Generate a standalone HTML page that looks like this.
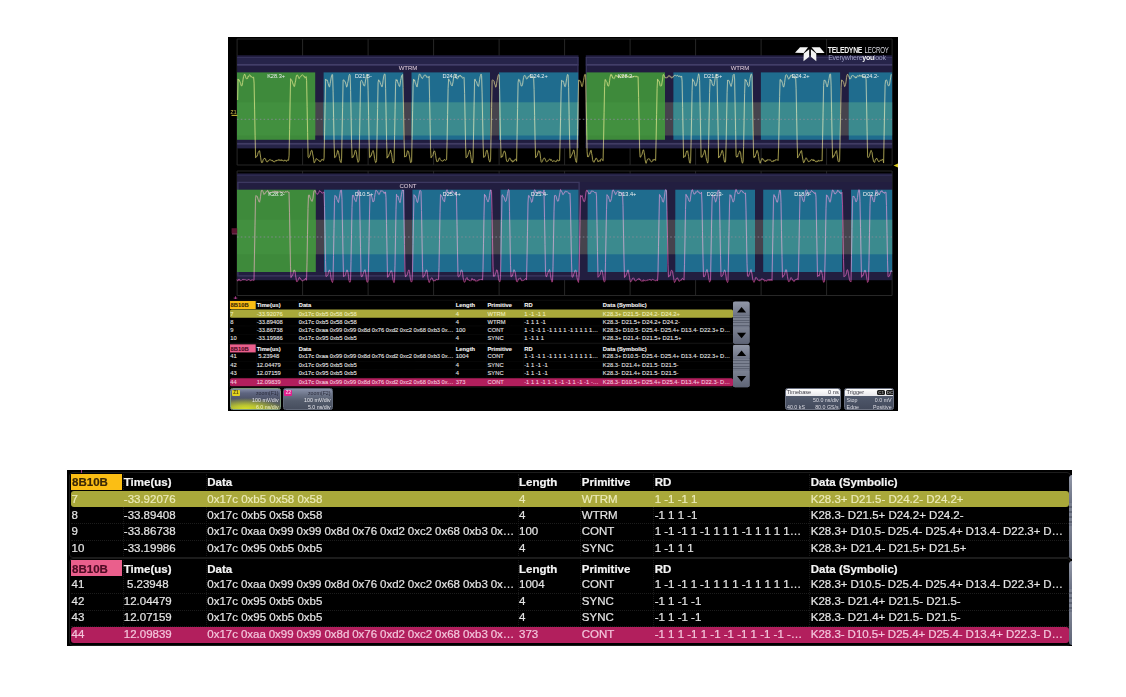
<!DOCTYPE html>
<html><head><meta charset="utf-8">
<style>
html,body{margin:0;padding:0;background:#fff;width:1126px;height:697px;overflow:hidden;}
body{position:relative;font-family:"Liberation Sans",Arial,sans-serif;}
#scope{position:absolute;left:228px;top:37px;width:670px;height:374px;background:#000;overflow:hidden;}
#scope svg{position:absolute;left:0;top:0;}
.grid line{stroke:#2b2b2b;stroke-width:0.9;}
.bl{font:5.6px "Liberation Sans",Arial,sans-serif;fill:#eef0f0;text-anchor:middle;}
.pl{font:6px "Liberation Sans",Arial,sans-serif;fill:#e6d2e0;text-anchor:middle;}
.z1{font:bold 5px "Liberation Sans",Arial,sans-serif;fill:#a89a40;}
.z2{font:bold 5px "Liberation Sans",Arial,sans-serif;fill:#d03080;}
.lg1{font:bold 8.2px "Liberation Sans",Arial,sans-serif;fill:#f0f0f0;letter-spacing:-0.35px;}
.lg2{font:8.2px "Liberation Sans",Arial,sans-serif;fill:#d8d8e0;letter-spacing:-0.2px;}
.lg3{font:7.2px "Liberation Sans",Arial,sans-serif;fill:#9c9cc0;letter-spacing:-0.3px;}
.lg4{font-weight:bold;fill:#f4f4f4;}
.tbl{position:absolute;width:1005px;height:176px;background:#000;overflow:hidden;}
.tbl .t{position:absolute;white-space:nowrap;font-size:11.5px;line-height:16px;height:16px;color:#e4e4e4;-webkit-text-stroke:0.2px currentColor;}
.tbl .b{font-weight:bold;color:#f4f4f4;}
.tbl .dk{color:#3a2806;}
.tbl .dp{color:#4c0a22;}
.tbl .hy{color:#ecebb8;}
.tbl .hp{color:#f4c6dc;}
.tbl .frame{position:absolute;left:2px;width:1000px;border:1px solid #1c1c1c;border-radius:4px;}
.tbl .vsep{position:absolute;width:0;border-left:1px dotted #181818;}
.tbl .hsep{position:absolute;left:4px;width:998px;height:0;border-top:1px dotted #1c1c1c;}
.tbl .hcell{position:absolute;left:3.7px;width:51.1px;height:15.8px;}
.tbl .hl{position:absolute;left:3.8px;width:998.2px;height:15.8px;border-radius:3px;}
#tsmall{left:228.2px;top:298.8px;transform:scale(0.504);transform-origin:0 0;overflow:visible;width:1045px;}
#tbig{left:67px;top:470px;}
.zb{position:absolute;border-radius:2.5px;box-sizing:border-box;overflow:hidden;}
.zb .tag{position:absolute;left:0.8px;top:0.8px;width:8px;height:6.2px;border-radius:1px;font:bold 4.6px/6.2px "Liberation Sans",Arial,sans-serif;text-align:center;}
.zb .zt{position:absolute;right:1.5px;font:5.3px/6px "Liberation Sans",Arial,sans-serif;white-space:nowrap;}
.zb .hd{position:absolute;left:0;top:0;right:0;height:6.8px;background:linear-gradient(180deg,#ffffff,#e8e8ec);border-radius:2px 2px 0 0;}
.zb .hd span{position:absolute;top:0.3px;font:5.6px/6.4px "Liberation Sans",Arial,sans-serif;color:#3a3a44;white-space:nowrap;}
.zb .hd b{position:absolute;top:0.6px;width:8px;height:5.6px;border-radius:1.5px;background:#1c1c1c;color:#9a9a9a;font:bold 4.4px/5.6px "Liberation Sans",Arial,sans-serif;text-align:center;}
.tbl .sb{position:absolute;width:33px;border-radius:4px;background:#6c7284;overflow:hidden;}
.tbl .sbu{position:absolute;left:0;top:0;width:100%;height:27px;background:linear-gradient(#9298a8,#6e7486);}
.tbl .sbm{position:absolute;left:0;top:28px;width:100%;height:21px;background:repeating-linear-gradient(180deg,#7a8090 0px,#7a8090 3px,#5c6272 3px,#5c6272 5px);}
.tbl .sbd{position:absolute;left:0;top:51px;width:100%;height:34px;background:linear-gradient(#7c8292,#5e6476);}
.tbl .aru{position:absolute;left:8px;top:11px;width:0;height:0;border-left:9px solid transparent;border-right:9px solid transparent;border-bottom:11px solid #000;}
.tbl .ard{position:absolute;left:8px;top:62px;width:0;height:0;border-left:9px solid transparent;border-right:9px solid transparent;border-top:11px solid #000;}

</style></head><body>
<div id="scope">
<svg width="670" height="374" viewBox="228 37 670 374">
<g class="grid"><line x1="237.1" y1="39.0" x2="237.1" y2="165.0"/>
<line x1="302.6" y1="39.0" x2="302.6" y2="165.0"/>
<line x1="368.1" y1="39.0" x2="368.1" y2="165.0"/>
<line x1="433.6" y1="39.0" x2="433.6" y2="165.0"/>
<line x1="499.1" y1="39.0" x2="499.1" y2="165.0"/>
<line x1="564.6" y1="39.0" x2="564.6" y2="165.0"/>
<line x1="630.1" y1="39.0" x2="630.1" y2="165.0"/>
<line x1="695.6" y1="39.0" x2="695.6" y2="165.0"/>
<line x1="761.1" y1="39.0" x2="761.1" y2="165.0"/>
<line x1="826.6" y1="39.0" x2="826.6" y2="165.0"/>
<line x1="892.1" y1="39.0" x2="892.1" y2="165.0"/>
<line x1="237.1" y1="39.0" x2="892.1" y2="39.0"/>
<line x1="237.1" y1="165.0" x2="892.1" y2="165.0"/>
<line x1="237.1" y1="171.0" x2="237.1" y2="295.5"/>
<line x1="302.6" y1="171.0" x2="302.6" y2="295.5"/>
<line x1="368.1" y1="171.0" x2="368.1" y2="295.5"/>
<line x1="433.6" y1="171.0" x2="433.6" y2="295.5"/>
<line x1="499.1" y1="171.0" x2="499.1" y2="295.5"/>
<line x1="564.6" y1="171.0" x2="564.6" y2="295.5"/>
<line x1="630.1" y1="171.0" x2="630.1" y2="295.5"/>
<line x1="695.6" y1="171.0" x2="695.6" y2="295.5"/>
<line x1="761.1" y1="171.0" x2="761.1" y2="295.5"/>
<line x1="826.6" y1="171.0" x2="826.6" y2="295.5"/>
<line x1="892.1" y1="171.0" x2="892.1" y2="295.5"/>
<line x1="237.1" y1="171.0" x2="892.1" y2="171.0"/>
<line x1="237.1" y1="295.5" x2="892.1" y2="295.5"/></g>

<rect x="237.1" y="55.3" width="341.4" height="93" fill="#211d40"/>
<rect x="585.8" y="55.3" width="306.3" height="93" fill="#211d40"/>
<rect x="237.1" y="57.0" width="341.4" height="1.4" fill="#35325a"/>
<rect x="585.8" y="57.0" width="306.3" height="1.4" fill="#35325a"/>
<rect x="237.1" y="58.4" width="341.4" height="5.5" fill="#26244a"/>
<rect x="585.8" y="58.4" width="306.3" height="5.5" fill="#26244a"/>
<rect x="237.1" y="144.9" width="341.4" height="3.3" fill="#262448"/>
<rect x="585.8" y="144.9" width="306.3" height="3.3" fill="#262448"/>
<rect x="237.1" y="102.3" width="341.4" height="33.2" fill="#46434d"/>
<rect x="585.8" y="102.3" width="306.3" height="33.2" fill="#46434d"/>
<rect x="237.1" y="63.9" width="341.4" height="1.8" fill="#423e68"/>
<rect x="585.8" y="63.9" width="306.3" height="1.8" fill="#423e68"/>
<rect x="237.1" y="142.9" width="341.4" height="1.8" fill="#403c64"/>
<rect x="585.8" y="142.9" width="306.3" height="1.8" fill="#403c64"/>

<path d="M577.9 57 V148 M586.3 57 V148" stroke="#3a365e" stroke-width="1"/>
<rect x="237.0" y="72.4" width="78.2" height="67.4" fill="#3e8a3b"/>
<rect x="237.0" y="102.3" width="78.2" height="33.2" fill="#42903f"/>
<rect x="323.6" y="72.4" width="79.6" height="67.4" fill="#1f6c8e"/>
<rect x="323.6" y="102.3" width="79.6" height="33.2" fill="#3b8a8e"/>
<rect x="411.5" y="72.4" width="78.5" height="67.4" fill="#1f6c8e"/>
<rect x="411.5" y="102.3" width="78.5" height="33.2" fill="#3b8a8e"/>
<rect x="499.0" y="72.4" width="79.2" height="67.4" fill="#1f6c8e"/>
<rect x="499.0" y="102.3" width="79.2" height="33.2" fill="#3b8a8e"/>
<rect x="586.5" y="72.4" width="78.5" height="67.4" fill="#3e8a3b"/>
<rect x="586.5" y="102.3" width="78.5" height="33.2" fill="#42903f"/>
<rect x="673.4" y="72.4" width="79.4" height="67.4" fill="#1f6c8e"/>
<rect x="673.4" y="102.3" width="79.4" height="33.2" fill="#3b8a8e"/>
<rect x="760.9" y="72.4" width="79.2" height="67.4" fill="#1f6c8e"/>
<rect x="760.9" y="102.3" width="79.2" height="33.2" fill="#3b8a8e"/>
<rect x="848.8" y="72.4" width="43.3" height="67.4" fill="#1f6c8e"/>
<rect x="848.8" y="102.3" width="43.3" height="33.2" fill="#3b8a8e"/>

<rect x="237.1" y="173.4" width="655" height="106.8" fill="#221e40"/>
<rect x="237.1" y="174.6" width="655" height="1.4" fill="#2e2b50"/>
<rect x="237.1" y="176" width="655" height="6" fill="#25223f"/>
<rect x="237.1" y="219.7" width="655" height="34.6" fill="#46434d"/>
<rect x="237.9" y="182.4" width="341.2" height="93.5" fill="none" stroke="#3c3860" stroke-width="1.3"/>

<rect x="237.0" y="189.7" width="78.8" height="82.3" fill="#3e8a3b"/>
<rect x="237.0" y="219.7" width="78.8" height="34.6" fill="#42903f"/>
<rect x="324.0" y="189.7" width="80.3" height="82.3" fill="#1f6c8e"/>
<rect x="324.0" y="219.7" width="80.3" height="34.6" fill="#3b8a8e"/>
<rect x="412.4" y="189.7" width="78.8" height="82.3" fill="#1f6c8e"/>
<rect x="412.4" y="219.7" width="78.8" height="34.6" fill="#3b8a8e"/>
<rect x="500.5" y="189.7" width="78.0" height="82.3" fill="#1f6c8e"/>
<rect x="500.5" y="219.7" width="78.0" height="34.6" fill="#3b8a8e"/>
<rect x="587.6" y="189.7" width="79.4" height="82.3" fill="#1f6c8e"/>
<rect x="587.6" y="219.7" width="79.4" height="34.6" fill="#3b8a8e"/>
<rect x="675.3" y="189.7" width="79.7" height="82.3" fill="#1f6c8e"/>
<rect x="675.3" y="219.7" width="79.7" height="34.6" fill="#3b8a8e"/>
<rect x="763.2" y="189.7" width="78.8" height="82.3" fill="#1f6c8e"/>
<rect x="763.2" y="219.7" width="78.8" height="34.6" fill="#3b8a8e"/>
<rect x="851.0" y="189.7" width="41.1" height="82.3" fill="#1f6c8e"/>
<rect x="851.0" y="219.7" width="41.1" height="34.6" fill="#3b8a8e"/>
<line x1="237" y1="119.3" x2="892" y2="119.3" stroke="#8e8c9c" stroke-width="0.75" stroke-dasharray="1.6 2.2"/>
<line x1="237" y1="237.0" x2="892" y2="237.0" stroke="#8e8c9c" stroke-width="0.75" stroke-dasharray="1.6 2.2"/>
<g style="mix-blend-mode:screen"><polyline points="237.6,100.0 238.1,79.0 238.6,80.2 239.1,79.8 239.6,81.0 240.1,82.1 240.6,83.3 241.1,85.6 241.6,85.7 242.1,85.6 242.6,82.5 243.1,79.2 243.6,76.5 244.1,75.2 244.6,74.1 245.1,75.0 245.6,76.8 246.1,78.5 246.6,78.6 247.1,78.2 247.6,78.6 248.1,76.4 248.6,76.9 249.1,75.3 249.6,74.9 250.1,75.1 250.6,75.8 251.1,77.1 251.6,76.6 252.1,77.5 252.6,77.7 253.1,77.2 253.6,77.2 254.1,83.1 254.6,109.1 255.1,135.2 255.6,157.8 256.1,156.9 256.6,156.2 257.1,156.3 257.6,154.7 258.1,152.7 258.6,151.9 259.1,150.9 259.6,150.8 260.1,153.8 260.6,157.1 261.1,160.8 261.6,162.6 262.1,162.0 262.6,162.3 263.1,159.8 263.6,159.2 264.1,159.0 264.6,158.0 265.1,159.1 265.6,159.1 266.1,161.0 266.6,161.7 267.1,161.6 267.6,161.9 268.1,160.6 268.6,160.7 269.1,160.1 269.6,159.7 270.1,159.4 270.6,160.2 271.1,160.6 271.6,160.2 272.1,160.9 272.6,160.3 273.1,161.6 273.6,161.5 274.1,162.1 274.6,161.7 275.1,160.8 275.6,160.8 276.1,161.2 276.6,160.0 277.1,160.6 277.6,160.0 278.1,159.8 278.6,159.7 279.1,160.7 279.6,159.7 280.1,159.9 280.6,160.1 281.1,160.9 281.6,159.7 282.1,160.3 282.6,160.4 283.1,161.0 283.6,160.9 284.1,161.0 284.6,160.1 285.1,160.4 285.6,160.3 286.1,161.2 286.6,161.3 287.1,160.1 287.6,160.1 288.1,160.3 288.6,160.3 289.1,155.2 289.6,129.4 290.1,103.0 290.6,78.7 291.1,79.8 291.6,80.2 292.1,80.9 292.6,82.8 293.1,84.1 293.6,85.5 294.1,86.6 294.6,86.2 295.1,82.8 295.6,80.9 296.1,77.4 296.6,75.4 297.1,75.1 297.6,75.2 298.1,76.3 298.6,77.0 299.1,78.6 299.6,77.7 300.1,77.3 300.6,76.7 301.1,75.8 301.6,75.5 302.1,74.8 302.6,74.9 303.1,75.5 303.6,75.9 304.1,76.8 304.6,76.6 305.1,78.1 305.6,77.6 306.1,76.6 306.6,80.3 307.1,106.4 307.6,132.4 308.1,156.9 308.6,157.7 309.1,157.3 309.6,156.2 310.1,155.0 310.6,152.6 311.1,151.0 311.6,150.3 312.1,150.6 312.6,153.9 313.1,156.1 313.6,159.1 314.1,162.8 314.6,162.5 315.1,161.1 315.6,160.6 316.1,158.7 316.6,158.7 317.1,159.3 317.6,159.6 318.1,160.1 318.6,160.2 319.1,161.0 319.6,161.0 320.1,161.8 320.6,161.0 321.1,160.9 321.6,159.7 322.1,159.2 322.6,160.0 323.1,160.4 323.6,160.4 324.1,157.8 324.6,131.9 325.1,105.8 325.6,79.1 326.1,79.9 326.6,80.2 327.1,80.0 327.6,81.2 328.1,83.3 328.6,85.0 329.1,86.7 329.6,86.8 330.1,83.7 330.6,81.2 331.1,78.0 331.6,75.7 332.1,74.4 332.6,74.8 333.1,91.7 333.6,117.6 334.1,143.5 334.6,157.6 335.1,157.5 335.6,157.0 336.1,155.7 336.6,154.5 337.1,153.0 337.6,150.4 338.1,150.8 338.6,152.5 339.1,155.2 339.6,158.5 340.1,161.0 340.6,162.0 341.1,162.6 341.6,158.1 342.1,132.9 342.6,107.2 343.1,80.4 343.6,79.7 344.1,81.1 344.6,81.1 345.1,81.4 345.6,83.0 346.1,84.7 346.6,87.0 347.1,86.6 347.6,83.3 348.1,81.2 348.6,78.1 349.1,75.3 349.6,74.3 350.1,75.3 350.6,90.5 351.1,116.3 351.6,143.7 352.1,157.7 352.6,156.9 353.1,157.2 353.6,155.7 354.1,154.9 354.6,153.1 355.1,150.6 355.6,150.1 356.1,151.4 356.6,154.2 357.1,158.1 357.6,160.6 358.1,162.3 358.6,161.6 359.1,160.0 359.6,133.2 360.1,107.4 360.6,81.7 361.1,80.5 361.6,80.3 362.1,81.3 362.6,81.8 363.1,83.6 363.6,85.3 364.1,85.6 364.6,86.1 365.1,83.5 365.6,80.0 366.1,77.9 366.6,74.5 367.1,74.5 367.6,75.5 368.1,90.2 368.6,115.7 369.1,142.0 369.6,157.5 370.1,157.3 370.6,155.9 371.1,156.0 371.6,154.0 372.1,152.3 372.6,151.6 373.1,150.5 373.6,151.8 374.1,154.9 374.6,158.5 375.1,160.8 375.6,162.6 376.1,162.2 376.6,160.4 377.1,134.8 377.6,108.5 378.1,82.7 378.6,79.8 379.1,81.1 379.6,81.0 380.1,82.4 380.6,84.2 381.1,84.8 381.6,86.4 382.1,86.9 382.6,84.7 383.1,80.3 383.6,77.0 384.1,75.0 384.6,73.9 385.1,74.7 385.6,88.3 386.1,115.2 386.6,141.4 387.1,158.1 387.6,156.3 388.1,156.8 388.6,156.2 389.1,153.9 389.6,153.3 390.1,151.9 390.6,150.1 391.1,152.3 391.6,154.2 392.1,157.7 392.6,161.6 393.1,163.0 393.6,161.7 394.1,161.4 394.6,135.5 395.1,109.3 395.6,83.2 396.1,79.5 396.6,80.7 397.1,79.9 397.6,81.8 398.1,83.3 398.6,84.3 399.1,86.0 399.6,86.5 400.1,84.3 400.6,80.4 401.1,78.5 401.6,75.7 402.1,75.3 402.6,74.5 403.1,87.6 403.6,113.2 404.1,140.3 404.6,157.1 405.1,156.3 405.6,156.4 406.1,156.6 406.6,155.0 407.1,152.4 407.6,150.7 408.1,151.2 408.6,151.6 409.1,154.5 409.6,156.9 410.1,160.0 410.6,162.7 411.1,162.2 411.6,161.8 412.1,137.3 412.6,110.8 413.1,85.2 413.6,79.1 414.1,80.9 414.6,79.9 415.1,82.2 415.6,83.2 416.1,84.8 416.6,86.3 417.1,87.0 417.6,84.0 418.1,80.6 418.6,77.9 419.1,74.8 419.6,73.9 420.1,74.5 420.6,75.4 421.1,76.8 421.6,77.9 422.1,78.2 422.6,78.5 423.1,77.1 423.6,76.6 424.1,75.4 424.6,75.3 425.1,74.8 425.6,75.5 426.1,75.6 426.6,77.3 427.1,77.4 427.6,77.0 428.1,77.4 428.6,77.9 429.1,76.2 429.6,98.9 430.1,124.2 430.6,150.2 431.1,157.8 431.6,156.5 432.1,156.4 432.6,155.8 433.1,154.6 433.6,151.8 434.1,151.3 434.6,151.0 435.1,152.6 435.6,155.4 436.1,158.7 436.6,160.9 437.1,161.9 437.6,161.3 438.1,161.3 438.6,159.4 439.1,158.3 439.6,157.8 440.1,159.4 440.6,160.1 441.1,160.6 441.6,160.7 442.1,161.1 442.6,161.1 443.1,161.0 443.6,160.1 444.1,160.1 444.6,159.4 445.1,160.3 445.6,160.3 446.1,159.8 446.6,159.7 447.1,141.5 447.6,114.5 448.1,88.6 448.6,78.9 449.1,80.1 449.6,80.5 450.1,81.4 450.6,82.6 451.1,84.8 451.6,85.3 452.1,86.0 452.6,84.1 453.1,81.6 453.6,77.6 454.1,74.8 454.6,74.2 455.1,74.5 455.6,76.1 456.1,77.2 456.6,78.5 457.1,78.8 457.6,78.6 458.1,78.1 458.6,76.5 459.1,75.7 459.6,76.3 460.1,75.0 460.6,76.2 461.1,76.6 461.6,76.1 462.1,77.8 462.6,78.1 463.1,77.7 463.6,77.6 464.1,77.4 464.6,93.6 465.1,120.2 465.6,146.1 466.1,157.9 466.6,157.3 467.1,157.0 467.6,155.8 468.1,154.7 468.6,152.6 469.1,151.3 469.6,150.1 470.1,151.3 470.6,154.4 471.1,158.2 471.6,160.6 472.1,163.0 472.6,162.2 473.1,157.0 473.6,131.1 474.1,105.2 474.6,79.5 475.1,79.1 475.6,80.9 476.1,81.2 476.6,82.0 477.1,83.8 477.6,85.6 478.1,85.7 478.6,86.4 479.1,83.3 479.6,79.7 480.1,76.8 480.6,75.3 481.1,74.1 481.6,75.7 482.1,92.9 482.6,118.1 483.1,143.8 483.6,157.4 484.1,157.1 484.6,156.9 485.1,156.0 485.6,154.5 486.1,151.8 486.6,150.5 487.1,150.1 487.6,152.2 488.1,154.4 488.6,158.3 489.1,160.3 489.6,161.8 490.1,161.8 490.6,159.1 491.1,133.2 491.6,107.3 492.1,80.7 492.6,79.9 493.1,80.3 493.6,80.6 494.1,81.2 494.6,84.2 495.1,84.8 495.6,87.1 496.1,86.8 496.6,83.2 497.1,80.6 497.6,77.9 498.1,75.8 498.6,74.5 499.1,74.8 499.6,89.6 500.1,116.7 500.6,141.5 501.1,157.6 501.6,156.3 502.1,156.5 502.6,156.6 503.1,153.8 503.6,153.1 504.1,151.1 504.6,151.1 505.1,152.0 505.6,154.0 506.1,158.5 506.6,160.9 507.1,161.7 507.6,161.4 508.1,161.3 508.6,160.1 509.1,158.8 509.6,157.9 510.1,158.4 510.6,159.0 511.1,160.6 511.6,160.1 512.1,161.8 512.6,162.0 513.1,160.6 513.6,161.5 514.1,160.6 514.6,160.5 515.1,159.2 515.6,159.3 516.1,159.5 516.6,161.2 517.1,134.6 517.6,108.3 518.1,82.5 518.6,79.4 519.1,79.7 519.6,80.0 520.1,82.3 520.6,83.1 521.1,85.9 521.6,85.9 522.1,85.8 522.6,84.2 523.1,80.4 523.6,77.4 524.1,75.9 524.6,75.2 525.1,75.7 525.6,76.4 526.1,78.1 526.6,79.0 527.1,78.6 527.6,78.4 528.1,76.6 528.6,76.9 529.1,75.8 529.6,75.9 530.1,75.8 530.6,75.6 531.1,75.7 531.6,77.6 532.1,76.7 532.6,77.5 533.1,77.2 533.6,76.9 534.1,89.4 534.6,115.7 535.1,140.5 535.6,157.7 536.1,156.6 536.6,156.6 537.1,155.8 537.6,153.9 538.1,152.1 538.6,150.7 539.1,151.2 539.6,151.6 540.1,153.9 540.6,158.4 541.1,161.6 541.6,162.3 542.1,161.7 542.6,160.9 543.1,159.5 543.6,158.9 544.1,157.9 544.6,158.2 545.1,158.9 545.6,160.2 546.1,161.5 546.6,161.8 547.1,161.3 547.6,161.1 548.1,160.9 548.6,160.1 549.1,159.6 549.6,158.9 550.1,159.2 550.6,160.4 551.1,159.4 551.6,160.4 552.1,160.9 552.6,161.6 553.1,160.8 553.6,160.9 554.1,160.9 554.6,161.0 555.1,161.0 555.6,161.7 556.1,161.4 556.6,161.4 557.1,159.9 557.6,159.8 558.1,160.8 558.6,161.0 559.1,160.3 559.6,160.4 560.1,141.5 560.6,116.2 561.1,91.1 561.6,80.2 562.1,80.8 562.6,81.3 563.1,80.9 563.6,82.3 564.1,84.1 564.6,86.1 565.1,86.7 565.6,85.6 566.1,82.3 566.6,78.8 567.1,76.1 567.6,74.4 568.1,75.0 568.6,87.3 569.1,114.4 569.6,139.4 570.1,158.1 570.6,157.2 571.1,156.2 571.6,155.4 572.1,154.1 572.6,153.0 573.1,151.5 573.6,149.9 574.1,150.8 574.6,154.2 575.1,157.7 575.6,160.5 576.1,162.0 576.6,162.4 577.1,155.0 577.6,129.5 578.1,103.8 578.6,80.2 579.1,80.1 579.6,81.1 580.1,80.7 580.6,81.6 581.1,83.4 581.6,86.2 582.1,86.7 582.6,85.7 583.1,82.8 583.6,80.3 584.1,77.3 584.6,74.7 585.1,74.2 585.6,74.8 586.1,101.1 586.6,125.9 587.1,151.6 587.6,157.0 588.1,156.5 588.6,156.7 589.1,154.9 589.6,154.2 590.1,152.3 590.6,150.7 591.1,150.2 591.6,153.4 592.1,155.5 592.6,159.7 593.1,161.3 593.6,162.0 594.1,162.3 594.6,160.5 595.1,160.4 595.6,158.8 596.1,158.0 596.6,158.4 597.1,159.5 597.6,160.7 598.1,161.8 598.6,160.9 599.1,161.2 599.6,160.6 600.1,161.4 600.6,159.5 601.1,159.0 601.6,158.8 602.1,159.4 602.6,160.4 603.1,160.7 603.6,138.0 604.1,112.5 604.6,86.4 605.1,79.5 605.6,79.8 606.1,81.3 606.6,82.0 607.1,82.5 607.6,85.3 608.1,86.0 608.6,86.1 609.1,84.2 609.6,80.8 610.1,77.1 610.6,75.0 611.1,74.3 611.6,75.8 612.1,75.5 612.6,78.0 613.1,77.7 613.6,78.3 614.1,78.7 614.6,78.0 615.1,76.5 615.6,75.2 616.1,75.5 616.6,75.4 617.1,76.6 617.6,75.9 618.1,76.7 618.6,77.9 619.1,76.7 619.6,77.3 620.1,77.7 620.6,77.3 621.1,75.8 621.6,75.4 622.1,75.1 622.6,76.4 623.1,75.3 623.6,76.2 624.1,76.5 624.6,75.7 625.1,75.7 625.6,76.9 626.1,76.5 626.6,76.0 627.1,76.9 627.6,76.3 628.1,76.3 628.6,75.9 629.1,77.1 629.6,77.4 630.1,76.9 630.6,77.4 631.1,75.9 631.6,76.2 632.1,76.6 632.6,77.3 633.1,77.3 633.6,76.4 634.1,76.1 634.6,76.4 635.1,76.4 635.6,77.1 636.1,75.9 636.6,76.8 637.1,76.7 637.6,76.8 638.1,76.7 638.6,97.5 639.1,123.0 639.6,148.9 640.1,157.1 640.6,157.2 641.1,155.8 641.6,155.0 642.1,154.3 642.6,151.7 643.1,150.1 643.6,149.9 644.1,152.4 644.6,155.1 645.1,159.6 645.6,162.1 646.1,163.3 646.6,161.6 647.1,160.3 647.6,159.2 648.1,158.9 648.6,158.8 649.1,158.7 649.6,159.1 650.1,160.2 650.6,161.2 651.1,161.7 651.6,161.8 652.1,161.7 652.6,160.9 653.1,159.6 653.6,160.3 654.1,159.2 654.6,159.7 655.1,159.6 655.6,160.5 656.1,140.2 656.6,114.4 657.1,88.4 657.6,79.1 658.1,80.9 658.6,80.7 659.1,81.1 659.6,82.9 660.1,85.6 660.6,86.1 661.1,86.0 661.6,85.3 662.1,82.0 662.6,79.1 663.1,74.9 663.6,74.5 664.1,75.5 664.6,76.5 665.1,77.8 665.6,77.4 666.1,78.2 666.6,77.6 667.1,77.0 667.6,77.5 668.1,76.1 668.6,76.2 669.1,75.4 669.6,76.5 670.1,76.2 670.6,76.4 671.1,77.7 671.6,78.2 672.1,76.8 672.6,77.4 673.1,77.1 673.6,76.1 674.1,76.0 674.6,75.3 675.1,75.2 675.6,75.3 676.1,75.9 676.6,76.1 677.1,75.4 677.6,75.3 678.1,75.9 678.6,76.6 679.1,75.9 679.6,76.2 680.1,76.1 680.6,77.1 681.1,76.8 681.6,76.0 682.1,81.1 682.6,107.5 683.1,133.7 683.6,157.7 684.1,156.4 684.6,156.0 685.1,156.5 685.6,154.8 686.1,152.8 686.6,151.2 687.1,151.3 687.6,150.8 688.1,153.6 688.6,156.5 689.1,159.9 689.6,162.7 690.1,163.2 690.6,161.4 691.1,142.3 691.6,117.2 692.1,90.4 692.6,78.8 693.1,80.9 693.6,80.4 694.1,81.8 694.6,82.7 695.1,85.3 695.6,86.0 696.1,85.9 696.6,84.2 697.1,82.1 697.6,78.8 698.1,76.4 698.6,73.8 699.1,75.1 699.6,80.5 700.1,106.7 700.6,132.0 701.1,157.2 701.6,157.1 702.1,157.2 702.6,155.6 703.1,155.0 703.6,153.7 704.1,152.3 704.6,150.1 705.1,150.4 705.6,154.0 706.1,157.4 706.6,159.9 707.1,161.4 707.6,163.1 708.1,161.5 708.6,144.5 709.1,118.1 709.6,92.5 710.1,79.1 710.6,80.7 711.1,80.1 711.6,81.1 712.1,83.4 712.6,85.1 713.1,85.5 713.6,86.0 714.1,84.9 714.6,82.2 715.1,78.5 715.6,75.2 716.1,74.1 716.6,75.2 717.1,80.3 717.6,104.9 718.1,131.7 718.6,157.9 719.1,156.4 719.6,157.1 720.1,155.6 720.6,155.2 721.1,153.4 721.6,151.9 722.1,150.3 722.6,150.8 723.1,153.3 723.6,156.4 724.1,160.0 724.6,162.0 725.1,162.3 725.6,161.0 726.1,145.1 726.6,118.9 727.1,92.6 727.6,80.0 728.1,80.6 728.6,80.4 729.1,80.7 729.6,82.7 730.1,83.9 730.6,85.4 731.1,86.4 731.6,84.5 732.1,82.2 732.6,78.9 733.1,75.2 733.6,74.7 734.1,74.2 734.6,79.0 735.1,105.0 735.6,130.5 736.1,155.7 736.6,157.2 737.1,156.4 737.6,157.0 738.1,154.5 738.6,154.0 739.1,152.5 739.6,151.0 740.1,151.4 740.6,152.6 741.1,157.1 741.6,159.7 742.1,162.7 742.6,163.1 743.1,161.2 743.6,146.4 744.1,120.7 744.6,93.3 745.1,79.3 745.6,80.6 746.1,80.0 746.6,81.8 747.1,82.3 747.6,85.0 748.1,85.4 748.6,86.5 749.1,85.9 749.6,81.9 750.1,78.6 750.6,76.0 751.1,74.2 751.6,74.1 752.1,77.1 752.6,103.0 753.1,130.2 753.6,155.7 754.1,157.8 754.6,156.1 755.1,156.8 755.6,154.6 756.1,153.5 756.6,152.0 757.1,150.4 757.6,151.4 758.1,153.1 758.6,156.4 759.1,160.2 759.6,161.3 760.1,163.2 760.6,162.0 761.1,160.5 761.6,160.0 762.1,158.3 762.6,159.3 763.1,159.1 763.6,159.5 764.1,160.9 764.6,161.1 765.1,161.0 765.6,161.8 766.1,160.3 766.6,161.1 767.1,159.7 767.6,159.9 768.1,160.3 768.6,159.7 769.1,160.1 769.6,159.9 770.1,159.8 770.6,160.2 771.1,160.6 771.6,161.5 772.1,161.2 772.6,161.3 773.1,161.8 773.6,160.5 774.1,160.5 774.6,161.1 775.1,159.9 775.6,159.8 776.1,160.2 776.6,159.7 777.1,160.1 777.6,159.9 778.1,160.4 778.6,148.1 779.1,121.6 779.6,96.3 780.1,79.5 780.6,79.5 781.1,81.2 781.6,80.7 782.1,82.0 782.6,83.7 783.1,86.1 783.6,87.1 784.1,85.9 784.6,82.5 785.1,78.9 785.6,75.4 786.1,74.8 786.6,74.8 787.1,75.4 787.6,77.0 788.1,77.8 788.6,79.2 789.1,78.7 789.6,77.3 790.1,77.6 790.6,75.4 791.1,75.7 791.6,75.4 792.1,75.3 792.6,75.5 793.1,77.1 793.6,76.4 794.1,77.5 794.6,78.2 795.1,76.8 795.6,76.5 796.1,88.2 796.6,113.9 797.1,140.1 797.6,158.0 798.1,156.4 798.6,156.2 799.1,155.6 799.6,153.8 800.1,153.4 800.6,151.7 801.1,150.8 801.6,150.7 802.1,154.8 802.6,158.0 803.1,160.6 803.6,162.8 804.1,162.2 804.6,161.0 805.1,159.6 805.6,158.7 806.1,157.8 806.6,158.4 807.1,159.6 807.6,160.3 808.1,161.4 808.6,161.7 809.1,161.1 809.6,161.3 810.1,160.7 810.6,160.8 811.1,159.9 811.6,159.2 812.1,159.7 812.6,160.4 813.1,159.5 813.6,160.9 814.1,159.9 814.6,160.7 815.1,160.8 815.6,161.7 816.1,162.0 816.6,161.6 817.1,160.8 817.6,161.6 818.1,160.6 818.6,160.3 819.1,161.3 819.6,160.7 820.1,160.7 820.6,160.6 821.1,161.1 821.6,160.3 822.1,160.8 822.6,137.9 823.1,112.2 823.6,85.6 824.1,80.1 824.6,80.4 825.1,80.3 825.6,81.1 826.1,83.4 826.6,84.3 827.1,86.9 827.6,85.8 828.1,83.7 828.6,80.7 829.1,78.6 829.6,75.1 830.1,73.9 830.6,74.3 831.1,85.2 831.6,112.2 832.1,138.0 832.6,157.8 833.1,157.4 833.6,155.8 834.1,156.2 834.6,154.4 835.1,153.4 835.6,151.8 836.1,151.1 836.6,150.6 837.1,154.5 837.6,158.0 838.1,161.2 838.6,161.7 839.1,161.8 839.6,160.9 840.1,137.9 840.6,113.3 841.1,87.3 841.6,79.9 842.1,80.8 842.6,80.8 843.1,81.2 843.6,82.5 844.1,84.3 844.6,86.6 845.1,85.9 845.6,84.3 846.1,81.3 846.6,77.3 847.1,75.0 847.6,74.2 848.1,75.4 848.6,75.8 849.1,76.9 849.6,78.9 850.1,78.5 850.6,78.7 851.1,77.7 851.6,75.9 852.1,75.8 852.6,75.4 853.1,76.0 853.6,75.7 854.1,76.7 854.6,76.9 855.1,76.8 855.6,78.1 856.1,76.8 856.6,77.7 857.1,76.4 857.6,75.7 858.1,75.7 858.6,76.3 859.1,76.5 859.6,74.9 860.1,75.7 860.6,75.8 861.1,76.4 861.6,75.5 862.1,76.2 862.6,76.0 863.1,76.9 863.6,76.1 864.1,77.3 864.6,76.3 865.1,76.2 865.6,77.0 866.1,79.7 866.6,105.0 867.1,131.8 867.6,156.8 868.1,157.6 868.6,156.9 869.1,156.7 869.6,155.3 870.1,153.1 870.6,151.5 871.1,150.4 871.6,151.6 872.1,152.5 872.6,157.1 873.1,159.0 873.6,161.6 874.1,162.0 874.6,162.4 875.1,160.6 875.6,159.3 876.1,159.3 876.6,158.1 877.1,158.9 877.6,159.8 878.1,161.0 878.6,161.6 879.1,161.7 879.6,161.1 880.1,160.7 880.6,159.9 881.1,160.6 881.6,159.9 882.1,159.9 882.6,159.1 883.1,159.8 883.6,162.9 884.1,136.7 884.6,110.0 885.1,84.6 885.6,80.4 886.1,79.9 886.6,80.1 887.1,81.3 887.6,83.6 888.1,85.6 888.6,85.7 889.1,85.7 889.6,84.0 890.1,80.9 890.6,77.9 891.1,74.7 891.6,74.2" fill="none" stroke="#b2aa56" stroke-width="1.8" stroke-opacity="0.08" stroke-linejoin="round"/><polyline points="237.6,100.0 238.1,79.0 238.6,80.2 239.1,79.8 239.6,81.0 240.1,82.1 240.6,83.3 241.1,85.6 241.6,85.7 242.1,85.6 242.6,82.5 243.1,79.2 243.6,76.5 244.1,75.2 244.6,74.1 245.1,75.0 245.6,76.8 246.1,78.5 246.6,78.6 247.1,78.2 247.6,78.6 248.1,76.4 248.6,76.9 249.1,75.3 249.6,74.9 250.1,75.1 250.6,75.8 251.1,77.1 251.6,76.6 252.1,77.5 252.6,77.7 253.1,77.2 253.6,77.2 254.1,83.1 254.6,109.1 255.1,135.2 255.6,157.8 256.1,156.9 256.6,156.2 257.1,156.3 257.6,154.7 258.1,152.7 258.6,151.9 259.1,150.9 259.6,150.8 260.1,153.8 260.6,157.1 261.1,160.8 261.6,162.6 262.1,162.0 262.6,162.3 263.1,159.8 263.6,159.2 264.1,159.0 264.6,158.0 265.1,159.1 265.6,159.1 266.1,161.0 266.6,161.7 267.1,161.6 267.6,161.9 268.1,160.6 268.6,160.7 269.1,160.1 269.6,159.7 270.1,159.4 270.6,160.2 271.1,160.6 271.6,160.2 272.1,160.9 272.6,160.3 273.1,161.6 273.6,161.5 274.1,162.1 274.6,161.7 275.1,160.8 275.6,160.8 276.1,161.2 276.6,160.0 277.1,160.6 277.6,160.0 278.1,159.8 278.6,159.7 279.1,160.7 279.6,159.7 280.1,159.9 280.6,160.1 281.1,160.9 281.6,159.7 282.1,160.3 282.6,160.4 283.1,161.0 283.6,160.9 284.1,161.0 284.6,160.1 285.1,160.4 285.6,160.3 286.1,161.2 286.6,161.3 287.1,160.1 287.6,160.1 288.1,160.3 288.6,160.3 289.1,155.2 289.6,129.4 290.1,103.0 290.6,78.7 291.1,79.8 291.6,80.2 292.1,80.9 292.6,82.8 293.1,84.1 293.6,85.5 294.1,86.6 294.6,86.2 295.1,82.8 295.6,80.9 296.1,77.4 296.6,75.4 297.1,75.1 297.6,75.2 298.1,76.3 298.6,77.0 299.1,78.6 299.6,77.7 300.1,77.3 300.6,76.7 301.1,75.8 301.6,75.5 302.1,74.8 302.6,74.9 303.1,75.5 303.6,75.9 304.1,76.8 304.6,76.6 305.1,78.1 305.6,77.6 306.1,76.6 306.6,80.3 307.1,106.4 307.6,132.4 308.1,156.9 308.6,157.7 309.1,157.3 309.6,156.2 310.1,155.0 310.6,152.6 311.1,151.0 311.6,150.3 312.1,150.6 312.6,153.9 313.1,156.1 313.6,159.1 314.1,162.8 314.6,162.5 315.1,161.1 315.6,160.6 316.1,158.7 316.6,158.7 317.1,159.3 317.6,159.6 318.1,160.1 318.6,160.2 319.1,161.0 319.6,161.0 320.1,161.8 320.6,161.0 321.1,160.9 321.6,159.7 322.1,159.2 322.6,160.0 323.1,160.4 323.6,160.4 324.1,157.8 324.6,131.9 325.1,105.8 325.6,79.1 326.1,79.9 326.6,80.2 327.1,80.0 327.6,81.2 328.1,83.3 328.6,85.0 329.1,86.7 329.6,86.8 330.1,83.7 330.6,81.2 331.1,78.0 331.6,75.7 332.1,74.4 332.6,74.8 333.1,91.7 333.6,117.6 334.1,143.5 334.6,157.6 335.1,157.5 335.6,157.0 336.1,155.7 336.6,154.5 337.1,153.0 337.6,150.4 338.1,150.8 338.6,152.5 339.1,155.2 339.6,158.5 340.1,161.0 340.6,162.0 341.1,162.6 341.6,158.1 342.1,132.9 342.6,107.2 343.1,80.4 343.6,79.7 344.1,81.1 344.6,81.1 345.1,81.4 345.6,83.0 346.1,84.7 346.6,87.0 347.1,86.6 347.6,83.3 348.1,81.2 348.6,78.1 349.1,75.3 349.6,74.3 350.1,75.3 350.6,90.5 351.1,116.3 351.6,143.7 352.1,157.7 352.6,156.9 353.1,157.2 353.6,155.7 354.1,154.9 354.6,153.1 355.1,150.6 355.6,150.1 356.1,151.4 356.6,154.2 357.1,158.1 357.6,160.6 358.1,162.3 358.6,161.6 359.1,160.0 359.6,133.2 360.1,107.4 360.6,81.7 361.1,80.5 361.6,80.3 362.1,81.3 362.6,81.8 363.1,83.6 363.6,85.3 364.1,85.6 364.6,86.1 365.1,83.5 365.6,80.0 366.1,77.9 366.6,74.5 367.1,74.5 367.6,75.5 368.1,90.2 368.6,115.7 369.1,142.0 369.6,157.5 370.1,157.3 370.6,155.9 371.1,156.0 371.6,154.0 372.1,152.3 372.6,151.6 373.1,150.5 373.6,151.8 374.1,154.9 374.6,158.5 375.1,160.8 375.6,162.6 376.1,162.2 376.6,160.4 377.1,134.8 377.6,108.5 378.1,82.7 378.6,79.8 379.1,81.1 379.6,81.0 380.1,82.4 380.6,84.2 381.1,84.8 381.6,86.4 382.1,86.9 382.6,84.7 383.1,80.3 383.6,77.0 384.1,75.0 384.6,73.9 385.1,74.7 385.6,88.3 386.1,115.2 386.6,141.4 387.1,158.1 387.6,156.3 388.1,156.8 388.6,156.2 389.1,153.9 389.6,153.3 390.1,151.9 390.6,150.1 391.1,152.3 391.6,154.2 392.1,157.7 392.6,161.6 393.1,163.0 393.6,161.7 394.1,161.4 394.6,135.5 395.1,109.3 395.6,83.2 396.1,79.5 396.6,80.7 397.1,79.9 397.6,81.8 398.1,83.3 398.6,84.3 399.1,86.0 399.6,86.5 400.1,84.3 400.6,80.4 401.1,78.5 401.6,75.7 402.1,75.3 402.6,74.5 403.1,87.6 403.6,113.2 404.1,140.3 404.6,157.1 405.1,156.3 405.6,156.4 406.1,156.6 406.6,155.0 407.1,152.4 407.6,150.7 408.1,151.2 408.6,151.6 409.1,154.5 409.6,156.9 410.1,160.0 410.6,162.7 411.1,162.2 411.6,161.8 412.1,137.3 412.6,110.8 413.1,85.2 413.6,79.1 414.1,80.9 414.6,79.9 415.1,82.2 415.6,83.2 416.1,84.8 416.6,86.3 417.1,87.0 417.6,84.0 418.1,80.6 418.6,77.9 419.1,74.8 419.6,73.9 420.1,74.5 420.6,75.4 421.1,76.8 421.6,77.9 422.1,78.2 422.6,78.5 423.1,77.1 423.6,76.6 424.1,75.4 424.6,75.3 425.1,74.8 425.6,75.5 426.1,75.6 426.6,77.3 427.1,77.4 427.6,77.0 428.1,77.4 428.6,77.9 429.1,76.2 429.6,98.9 430.1,124.2 430.6,150.2 431.1,157.8 431.6,156.5 432.1,156.4 432.6,155.8 433.1,154.6 433.6,151.8 434.1,151.3 434.6,151.0 435.1,152.6 435.6,155.4 436.1,158.7 436.6,160.9 437.1,161.9 437.6,161.3 438.1,161.3 438.6,159.4 439.1,158.3 439.6,157.8 440.1,159.4 440.6,160.1 441.1,160.6 441.6,160.7 442.1,161.1 442.6,161.1 443.1,161.0 443.6,160.1 444.1,160.1 444.6,159.4 445.1,160.3 445.6,160.3 446.1,159.8 446.6,159.7 447.1,141.5 447.6,114.5 448.1,88.6 448.6,78.9 449.1,80.1 449.6,80.5 450.1,81.4 450.6,82.6 451.1,84.8 451.6,85.3 452.1,86.0 452.6,84.1 453.1,81.6 453.6,77.6 454.1,74.8 454.6,74.2 455.1,74.5 455.6,76.1 456.1,77.2 456.6,78.5 457.1,78.8 457.6,78.6 458.1,78.1 458.6,76.5 459.1,75.7 459.6,76.3 460.1,75.0 460.6,76.2 461.1,76.6 461.6,76.1 462.1,77.8 462.6,78.1 463.1,77.7 463.6,77.6 464.1,77.4 464.6,93.6 465.1,120.2 465.6,146.1 466.1,157.9 466.6,157.3 467.1,157.0 467.6,155.8 468.1,154.7 468.6,152.6 469.1,151.3 469.6,150.1 470.1,151.3 470.6,154.4 471.1,158.2 471.6,160.6 472.1,163.0 472.6,162.2 473.1,157.0 473.6,131.1 474.1,105.2 474.6,79.5 475.1,79.1 475.6,80.9 476.1,81.2 476.6,82.0 477.1,83.8 477.6,85.6 478.1,85.7 478.6,86.4 479.1,83.3 479.6,79.7 480.1,76.8 480.6,75.3 481.1,74.1 481.6,75.7 482.1,92.9 482.6,118.1 483.1,143.8 483.6,157.4 484.1,157.1 484.6,156.9 485.1,156.0 485.6,154.5 486.1,151.8 486.6,150.5 487.1,150.1 487.6,152.2 488.1,154.4 488.6,158.3 489.1,160.3 489.6,161.8 490.1,161.8 490.6,159.1 491.1,133.2 491.6,107.3 492.1,80.7 492.6,79.9 493.1,80.3 493.6,80.6 494.1,81.2 494.6,84.2 495.1,84.8 495.6,87.1 496.1,86.8 496.6,83.2 497.1,80.6 497.6,77.9 498.1,75.8 498.6,74.5 499.1,74.8 499.6,89.6 500.1,116.7 500.6,141.5 501.1,157.6 501.6,156.3 502.1,156.5 502.6,156.6 503.1,153.8 503.6,153.1 504.1,151.1 504.6,151.1 505.1,152.0 505.6,154.0 506.1,158.5 506.6,160.9 507.1,161.7 507.6,161.4 508.1,161.3 508.6,160.1 509.1,158.8 509.6,157.9 510.1,158.4 510.6,159.0 511.1,160.6 511.6,160.1 512.1,161.8 512.6,162.0 513.1,160.6 513.6,161.5 514.1,160.6 514.6,160.5 515.1,159.2 515.6,159.3 516.1,159.5 516.6,161.2 517.1,134.6 517.6,108.3 518.1,82.5 518.6,79.4 519.1,79.7 519.6,80.0 520.1,82.3 520.6,83.1 521.1,85.9 521.6,85.9 522.1,85.8 522.6,84.2 523.1,80.4 523.6,77.4 524.1,75.9 524.6,75.2 525.1,75.7 525.6,76.4 526.1,78.1 526.6,79.0 527.1,78.6 527.6,78.4 528.1,76.6 528.6,76.9 529.1,75.8 529.6,75.9 530.1,75.8 530.6,75.6 531.1,75.7 531.6,77.6 532.1,76.7 532.6,77.5 533.1,77.2 533.6,76.9 534.1,89.4 534.6,115.7 535.1,140.5 535.6,157.7 536.1,156.6 536.6,156.6 537.1,155.8 537.6,153.9 538.1,152.1 538.6,150.7 539.1,151.2 539.6,151.6 540.1,153.9 540.6,158.4 541.1,161.6 541.6,162.3 542.1,161.7 542.6,160.9 543.1,159.5 543.6,158.9 544.1,157.9 544.6,158.2 545.1,158.9 545.6,160.2 546.1,161.5 546.6,161.8 547.1,161.3 547.6,161.1 548.1,160.9 548.6,160.1 549.1,159.6 549.6,158.9 550.1,159.2 550.6,160.4 551.1,159.4 551.6,160.4 552.1,160.9 552.6,161.6 553.1,160.8 553.6,160.9 554.1,160.9 554.6,161.0 555.1,161.0 555.6,161.7 556.1,161.4 556.6,161.4 557.1,159.9 557.6,159.8 558.1,160.8 558.6,161.0 559.1,160.3 559.6,160.4 560.1,141.5 560.6,116.2 561.1,91.1 561.6,80.2 562.1,80.8 562.6,81.3 563.1,80.9 563.6,82.3 564.1,84.1 564.6,86.1 565.1,86.7 565.6,85.6 566.1,82.3 566.6,78.8 567.1,76.1 567.6,74.4 568.1,75.0 568.6,87.3 569.1,114.4 569.6,139.4 570.1,158.1 570.6,157.2 571.1,156.2 571.6,155.4 572.1,154.1 572.6,153.0 573.1,151.5 573.6,149.9 574.1,150.8 574.6,154.2 575.1,157.7 575.6,160.5 576.1,162.0 576.6,162.4 577.1,155.0 577.6,129.5 578.1,103.8 578.6,80.2 579.1,80.1 579.6,81.1 580.1,80.7 580.6,81.6 581.1,83.4 581.6,86.2 582.1,86.7 582.6,85.7 583.1,82.8 583.6,80.3 584.1,77.3 584.6,74.7 585.1,74.2 585.6,74.8 586.1,101.1 586.6,125.9 587.1,151.6 587.6,157.0 588.1,156.5 588.6,156.7 589.1,154.9 589.6,154.2 590.1,152.3 590.6,150.7 591.1,150.2 591.6,153.4 592.1,155.5 592.6,159.7 593.1,161.3 593.6,162.0 594.1,162.3 594.6,160.5 595.1,160.4 595.6,158.8 596.1,158.0 596.6,158.4 597.1,159.5 597.6,160.7 598.1,161.8 598.6,160.9 599.1,161.2 599.6,160.6 600.1,161.4 600.6,159.5 601.1,159.0 601.6,158.8 602.1,159.4 602.6,160.4 603.1,160.7 603.6,138.0 604.1,112.5 604.6,86.4 605.1,79.5 605.6,79.8 606.1,81.3 606.6,82.0 607.1,82.5 607.6,85.3 608.1,86.0 608.6,86.1 609.1,84.2 609.6,80.8 610.1,77.1 610.6,75.0 611.1,74.3 611.6,75.8 612.1,75.5 612.6,78.0 613.1,77.7 613.6,78.3 614.1,78.7 614.6,78.0 615.1,76.5 615.6,75.2 616.1,75.5 616.6,75.4 617.1,76.6 617.6,75.9 618.1,76.7 618.6,77.9 619.1,76.7 619.6,77.3 620.1,77.7 620.6,77.3 621.1,75.8 621.6,75.4 622.1,75.1 622.6,76.4 623.1,75.3 623.6,76.2 624.1,76.5 624.6,75.7 625.1,75.7 625.6,76.9 626.1,76.5 626.6,76.0 627.1,76.9 627.6,76.3 628.1,76.3 628.6,75.9 629.1,77.1 629.6,77.4 630.1,76.9 630.6,77.4 631.1,75.9 631.6,76.2 632.1,76.6 632.6,77.3 633.1,77.3 633.6,76.4 634.1,76.1 634.6,76.4 635.1,76.4 635.6,77.1 636.1,75.9 636.6,76.8 637.1,76.7 637.6,76.8 638.1,76.7 638.6,97.5 639.1,123.0 639.6,148.9 640.1,157.1 640.6,157.2 641.1,155.8 641.6,155.0 642.1,154.3 642.6,151.7 643.1,150.1 643.6,149.9 644.1,152.4 644.6,155.1 645.1,159.6 645.6,162.1 646.1,163.3 646.6,161.6 647.1,160.3 647.6,159.2 648.1,158.9 648.6,158.8 649.1,158.7 649.6,159.1 650.1,160.2 650.6,161.2 651.1,161.7 651.6,161.8 652.1,161.7 652.6,160.9 653.1,159.6 653.6,160.3 654.1,159.2 654.6,159.7 655.1,159.6 655.6,160.5 656.1,140.2 656.6,114.4 657.1,88.4 657.6,79.1 658.1,80.9 658.6,80.7 659.1,81.1 659.6,82.9 660.1,85.6 660.6,86.1 661.1,86.0 661.6,85.3 662.1,82.0 662.6,79.1 663.1,74.9 663.6,74.5 664.1,75.5 664.6,76.5 665.1,77.8 665.6,77.4 666.1,78.2 666.6,77.6 667.1,77.0 667.6,77.5 668.1,76.1 668.6,76.2 669.1,75.4 669.6,76.5 670.1,76.2 670.6,76.4 671.1,77.7 671.6,78.2 672.1,76.8 672.6,77.4 673.1,77.1 673.6,76.1 674.1,76.0 674.6,75.3 675.1,75.2 675.6,75.3 676.1,75.9 676.6,76.1 677.1,75.4 677.6,75.3 678.1,75.9 678.6,76.6 679.1,75.9 679.6,76.2 680.1,76.1 680.6,77.1 681.1,76.8 681.6,76.0 682.1,81.1 682.6,107.5 683.1,133.7 683.6,157.7 684.1,156.4 684.6,156.0 685.1,156.5 685.6,154.8 686.1,152.8 686.6,151.2 687.1,151.3 687.6,150.8 688.1,153.6 688.6,156.5 689.1,159.9 689.6,162.7 690.1,163.2 690.6,161.4 691.1,142.3 691.6,117.2 692.1,90.4 692.6,78.8 693.1,80.9 693.6,80.4 694.1,81.8 694.6,82.7 695.1,85.3 695.6,86.0 696.1,85.9 696.6,84.2 697.1,82.1 697.6,78.8 698.1,76.4 698.6,73.8 699.1,75.1 699.6,80.5 700.1,106.7 700.6,132.0 701.1,157.2 701.6,157.1 702.1,157.2 702.6,155.6 703.1,155.0 703.6,153.7 704.1,152.3 704.6,150.1 705.1,150.4 705.6,154.0 706.1,157.4 706.6,159.9 707.1,161.4 707.6,163.1 708.1,161.5 708.6,144.5 709.1,118.1 709.6,92.5 710.1,79.1 710.6,80.7 711.1,80.1 711.6,81.1 712.1,83.4 712.6,85.1 713.1,85.5 713.6,86.0 714.1,84.9 714.6,82.2 715.1,78.5 715.6,75.2 716.1,74.1 716.6,75.2 717.1,80.3 717.6,104.9 718.1,131.7 718.6,157.9 719.1,156.4 719.6,157.1 720.1,155.6 720.6,155.2 721.1,153.4 721.6,151.9 722.1,150.3 722.6,150.8 723.1,153.3 723.6,156.4 724.1,160.0 724.6,162.0 725.1,162.3 725.6,161.0 726.1,145.1 726.6,118.9 727.1,92.6 727.6,80.0 728.1,80.6 728.6,80.4 729.1,80.7 729.6,82.7 730.1,83.9 730.6,85.4 731.1,86.4 731.6,84.5 732.1,82.2 732.6,78.9 733.1,75.2 733.6,74.7 734.1,74.2 734.6,79.0 735.1,105.0 735.6,130.5 736.1,155.7 736.6,157.2 737.1,156.4 737.6,157.0 738.1,154.5 738.6,154.0 739.1,152.5 739.6,151.0 740.1,151.4 740.6,152.6 741.1,157.1 741.6,159.7 742.1,162.7 742.6,163.1 743.1,161.2 743.6,146.4 744.1,120.7 744.6,93.3 745.1,79.3 745.6,80.6 746.1,80.0 746.6,81.8 747.1,82.3 747.6,85.0 748.1,85.4 748.6,86.5 749.1,85.9 749.6,81.9 750.1,78.6 750.6,76.0 751.1,74.2 751.6,74.1 752.1,77.1 752.6,103.0 753.1,130.2 753.6,155.7 754.1,157.8 754.6,156.1 755.1,156.8 755.6,154.6 756.1,153.5 756.6,152.0 757.1,150.4 757.6,151.4 758.1,153.1 758.6,156.4 759.1,160.2 759.6,161.3 760.1,163.2 760.6,162.0 761.1,160.5 761.6,160.0 762.1,158.3 762.6,159.3 763.1,159.1 763.6,159.5 764.1,160.9 764.6,161.1 765.1,161.0 765.6,161.8 766.1,160.3 766.6,161.1 767.1,159.7 767.6,159.9 768.1,160.3 768.6,159.7 769.1,160.1 769.6,159.9 770.1,159.8 770.6,160.2 771.1,160.6 771.6,161.5 772.1,161.2 772.6,161.3 773.1,161.8 773.6,160.5 774.1,160.5 774.6,161.1 775.1,159.9 775.6,159.8 776.1,160.2 776.6,159.7 777.1,160.1 777.6,159.9 778.1,160.4 778.6,148.1 779.1,121.6 779.6,96.3 780.1,79.5 780.6,79.5 781.1,81.2 781.6,80.7 782.1,82.0 782.6,83.7 783.1,86.1 783.6,87.1 784.1,85.9 784.6,82.5 785.1,78.9 785.6,75.4 786.1,74.8 786.6,74.8 787.1,75.4 787.6,77.0 788.1,77.8 788.6,79.2 789.1,78.7 789.6,77.3 790.1,77.6 790.6,75.4 791.1,75.7 791.6,75.4 792.1,75.3 792.6,75.5 793.1,77.1 793.6,76.4 794.1,77.5 794.6,78.2 795.1,76.8 795.6,76.5 796.1,88.2 796.6,113.9 797.1,140.1 797.6,158.0 798.1,156.4 798.6,156.2 799.1,155.6 799.6,153.8 800.1,153.4 800.6,151.7 801.1,150.8 801.6,150.7 802.1,154.8 802.6,158.0 803.1,160.6 803.6,162.8 804.1,162.2 804.6,161.0 805.1,159.6 805.6,158.7 806.1,157.8 806.6,158.4 807.1,159.6 807.6,160.3 808.1,161.4 808.6,161.7 809.1,161.1 809.6,161.3 810.1,160.7 810.6,160.8 811.1,159.9 811.6,159.2 812.1,159.7 812.6,160.4 813.1,159.5 813.6,160.9 814.1,159.9 814.6,160.7 815.1,160.8 815.6,161.7 816.1,162.0 816.6,161.6 817.1,160.8 817.6,161.6 818.1,160.6 818.6,160.3 819.1,161.3 819.6,160.7 820.1,160.7 820.6,160.6 821.1,161.1 821.6,160.3 822.1,160.8 822.6,137.9 823.1,112.2 823.6,85.6 824.1,80.1 824.6,80.4 825.1,80.3 825.6,81.1 826.1,83.4 826.6,84.3 827.1,86.9 827.6,85.8 828.1,83.7 828.6,80.7 829.1,78.6 829.6,75.1 830.1,73.9 830.6,74.3 831.1,85.2 831.6,112.2 832.1,138.0 832.6,157.8 833.1,157.4 833.6,155.8 834.1,156.2 834.6,154.4 835.1,153.4 835.6,151.8 836.1,151.1 836.6,150.6 837.1,154.5 837.6,158.0 838.1,161.2 838.6,161.7 839.1,161.8 839.6,160.9 840.1,137.9 840.6,113.3 841.1,87.3 841.6,79.9 842.1,80.8 842.6,80.8 843.1,81.2 843.6,82.5 844.1,84.3 844.6,86.6 845.1,85.9 845.6,84.3 846.1,81.3 846.6,77.3 847.1,75.0 847.6,74.2 848.1,75.4 848.6,75.8 849.1,76.9 849.6,78.9 850.1,78.5 850.6,78.7 851.1,77.7 851.6,75.9 852.1,75.8 852.6,75.4 853.1,76.0 853.6,75.7 854.1,76.7 854.6,76.9 855.1,76.8 855.6,78.1 856.1,76.8 856.6,77.7 857.1,76.4 857.6,75.7 858.1,75.7 858.6,76.3 859.1,76.5 859.6,74.9 860.1,75.7 860.6,75.8 861.1,76.4 861.6,75.5 862.1,76.2 862.6,76.0 863.1,76.9 863.6,76.1 864.1,77.3 864.6,76.3 865.1,76.2 865.6,77.0 866.1,79.7 866.6,105.0 867.1,131.8 867.6,156.8 868.1,157.6 868.6,156.9 869.1,156.7 869.6,155.3 870.1,153.1 870.6,151.5 871.1,150.4 871.6,151.6 872.1,152.5 872.6,157.1 873.1,159.0 873.6,161.6 874.1,162.0 874.6,162.4 875.1,160.6 875.6,159.3 876.1,159.3 876.6,158.1 877.1,158.9 877.6,159.8 878.1,161.0 878.6,161.6 879.1,161.7 879.6,161.1 880.1,160.7 880.6,159.9 881.1,160.6 881.6,159.9 882.1,159.9 882.6,159.1 883.1,159.8 883.6,162.9 884.1,136.7 884.6,110.0 885.1,84.6 885.6,80.4 886.1,79.9 886.6,80.1 887.1,81.3 887.6,83.6 888.1,85.6 888.6,85.7 889.1,85.7 889.6,84.0 890.1,80.9 890.6,77.9 891.1,74.7 891.6,74.2" fill="none" stroke="#b2aa56" stroke-width="0.85" stroke-linejoin="round"/></g>
<g style="mix-blend-mode:screen"><polyline points="237.0,279.5 237.5,280.8 238.0,280.4 238.5,279.4 239.0,280.7 239.5,279.4 240.0,279.8 240.5,280.8 241.0,280.5 241.5,280.4 242.0,279.9 242.5,279.5 243.0,280.2 243.5,279.4 244.0,279.5 244.5,279.8 245.0,279.3 245.5,279.8 246.0,280.5 246.5,280.3 247.0,280.0 247.5,280.2 248.0,279.9 248.5,279.4 249.0,280.2 249.5,279.8 250.0,280.4 250.5,280.7 251.0,279.9 251.5,280.1 252.0,280.4 252.5,279.9 253.0,279.6 253.5,280.4 254.0,280.4 254.5,253.1 255.0,225.8 255.5,198.8 256.0,195.6 256.5,196.1 257.0,196.1 257.5,197.0 258.0,199.2 258.5,200.0 259.0,201.7 259.5,202.2 260.0,200.0 260.5,196.6 261.0,192.7 261.5,190.5 262.0,190.0 262.5,190.8 263.0,191.6 263.5,193.2 264.0,194.5 264.5,193.5 265.0,193.8 265.5,193.3 266.0,191.8 266.5,191.3 267.0,191.8 267.5,190.4 268.0,191.5 268.5,191.4 269.0,192.9 269.5,193.5 270.0,193.0 270.5,192.3 271.0,192.8 271.5,192.4 272.0,192.3 272.5,191.6 273.0,191.5 273.5,191.7 274.0,191.3 274.5,191.1 275.0,192.1 275.5,191.0 276.0,191.9 276.5,191.5 277.0,192.2 277.5,191.3 278.0,192.8 278.5,191.9 279.0,191.5 279.5,191.8 280.0,192.0 280.5,191.4 281.0,192.1 281.5,192.0 282.0,192.5 282.5,191.9 283.0,191.7 283.5,191.7 284.0,192.5 284.5,192.7 285.0,192.1 285.5,191.5 286.0,192.4 286.5,191.7 287.0,191.4 287.5,191.3 288.0,192.3 288.5,192.3 289.0,192.0 289.5,212.8 290.0,240.1 290.5,266.8 291.0,277.6 291.5,276.0 292.0,276.2 292.5,275.6 293.0,274.0 293.5,271.7 294.0,270.0 294.5,270.2 295.0,271.1 295.5,275.3 296.0,277.9 296.5,281.5 297.0,281.6 297.5,281.4 298.0,280.2 298.5,279.2 299.0,277.9 299.5,277.2 300.0,278.6 300.5,278.6 301.0,279.4 301.5,280.2 302.0,280.9 302.5,280.8 303.0,280.9 303.5,280.4 304.0,279.5 304.5,279.9 305.0,279.6 305.5,278.3 306.0,279.8 306.5,280.2 307.0,262.9 307.5,234.7 308.0,208.6 308.5,195.3 309.0,194.9 309.5,195.2 310.0,197.5 310.5,198.6 311.0,199.7 311.5,200.9 312.0,201.4 312.5,200.1 313.0,198.1 313.5,194.0 314.0,190.8 314.5,190.7 315.0,190.8 315.5,190.8 316.0,193.1 316.5,193.7 317.0,194.4 317.5,194.0 318.0,193.8 318.5,192.8 319.0,192.1 319.5,190.6 320.0,191.4 320.5,191.4 321.0,192.1 321.5,192.2 322.0,193.3 322.5,193.1 323.0,192.6 323.5,192.4 324.0,191.9 324.5,206.3 325.0,232.8 325.5,260.6 326.0,276.4 326.5,276.4 327.0,276.0 327.5,275.4 328.0,274.5 328.5,271.3 329.0,271.2 329.5,269.9 330.0,271.3 330.5,274.2 331.0,277.9 331.5,280.2 332.0,281.8 332.5,282.5 333.0,280.1 333.5,255.6 334.0,228.4 334.5,200.2 335.0,195.4 335.5,196.1 336.0,196.8 336.5,196.8 337.0,199.6 337.5,200.5 338.0,201.7 338.5,202.5 339.0,199.2 339.5,197.1 340.0,193.6 340.5,190.5 341.0,190.6 341.5,190.3 342.0,199.7 342.5,227.0 343.0,254.6 343.5,276.5 344.0,276.4 344.5,275.9 345.0,275.7 345.5,274.8 346.0,272.2 346.5,271.4 347.0,269.9 347.5,270.7 348.0,272.8 348.5,276.6 349.0,280.5 349.5,282.0 350.0,282.3 350.5,280.8 351.0,261.6 351.5,234.4 352.0,207.6 352.5,195.3 353.0,196.2 353.5,195.3 354.0,197.1 354.5,199.0 355.0,200.2 355.5,200.8 356.0,201.7 356.5,199.7 357.0,197.1 357.5,194.8 358.0,191.5 358.5,190.3 359.0,190.8 359.5,193.9 360.0,220.6 360.5,247.8 361.0,275.0 361.5,277.0 362.0,276.3 362.5,276.1 363.0,274.2 363.5,273.2 364.0,271.2 364.5,270.6 365.0,269.7 365.5,272.0 366.0,275.0 366.5,279.5 367.0,282.1 367.5,282.2 368.0,281.1 368.5,268.9 369.0,241.7 369.5,214.1 370.0,194.7 370.5,195.2 371.0,195.9 371.5,196.2 372.0,197.8 372.5,199.9 373.0,202.0 373.5,201.3 374.0,201.2 374.5,197.6 375.0,194.4 375.5,192.4 376.0,190.2 376.5,190.9 377.0,191.0 377.5,191.5 378.0,193.1 378.5,194.1 379.0,194.6 379.5,194.1 380.0,192.5 380.5,191.6 381.0,190.5 381.5,191.2 382.0,190.8 382.5,191.1 383.0,191.4 383.5,191.8 384.0,193.2 384.5,192.4 385.0,193.6 385.5,191.9 386.0,197.7 386.5,223.7 387.0,250.7 387.5,277.3 388.0,276.2 388.5,276.4 389.0,275.2 389.5,273.7 390.0,273.2 390.5,271.4 391.0,270.6 391.5,270.9 392.0,272.2 392.5,276.4 393.0,279.8 393.5,281.6 394.0,282.6 394.5,280.8 395.0,265.3 395.5,237.8 396.0,209.4 396.5,194.3 397.0,195.9 397.5,196.5 398.0,196.0 398.5,197.9 399.0,200.3 399.5,200.9 400.0,202.6 400.5,200.7 401.0,197.2 401.5,194.3 402.0,191.6 402.5,189.9 403.0,190.6 403.5,190.0 404.0,218.2 404.5,244.7 405.0,272.3 405.5,276.9 406.0,276.0 406.5,275.7 407.0,275.3 407.5,273.9 408.0,271.9 408.5,270.3 409.0,269.9 409.5,271.5 410.0,276.1 410.5,279.1 411.0,281.8 411.5,281.7 412.0,281.6 412.5,271.9 413.0,244.5 413.5,216.9 414.0,194.7 414.5,195.4 415.0,196.6 415.5,196.2 416.0,198.1 416.5,199.7 417.0,201.8 417.5,202.5 418.0,200.9 418.5,197.9 419.0,194.9 419.5,192.0 420.0,190.3 420.5,190.7 421.0,191.6 421.5,210.5 422.0,238.9 422.5,266.1 423.0,277.4 423.5,276.4 424.0,275.6 424.5,275.7 425.0,274.1 425.5,272.1 426.0,271.1 426.5,269.8 427.0,270.9 427.5,274.6 428.0,278.5 428.5,280.3 429.0,282.4 429.5,282.3 430.0,280.2 430.5,279.6 431.0,278.7 431.5,277.9 432.0,277.8 432.5,278.5 433.0,280.1 433.5,281.0 434.0,280.9 434.5,280.3 435.0,281.1 435.5,280.6 436.0,279.3 436.5,279.4 437.0,279.7 437.5,279.7 438.0,279.3 438.5,279.5 439.0,267.5 439.5,239.6 440.0,212.5 440.5,194.5 441.0,195.9 441.5,195.8 442.0,196.7 442.5,197.9 443.0,199.8 443.5,200.7 444.0,201.3 444.5,201.8 445.0,198.0 445.5,194.2 446.0,192.0 446.5,190.5 447.0,189.7 447.5,191.3 448.0,192.0 448.5,193.4 449.0,193.2 449.5,193.1 450.0,194.1 450.5,193.1 451.0,191.7 451.5,191.2 452.0,190.6 452.5,191.7 453.0,191.6 453.5,192.9 454.0,193.1 454.5,193.4 455.0,193.7 455.5,192.4 456.0,191.8 456.5,197.7 457.0,224.8 457.5,251.9 458.0,276.3 458.5,276.7 459.0,276.6 459.5,275.6 460.0,275.1 460.5,273.3 461.0,270.3 461.5,270.2 462.0,270.4 462.5,272.4 463.0,277.1 463.5,279.2 464.0,281.8 464.5,282.1 465.0,281.9 465.5,280.3 466.0,278.7 466.5,278.0 467.0,277.5 467.5,279.3 468.0,280.1 468.5,279.7 469.0,280.0 469.5,280.6 470.0,280.6 470.5,281.1 471.0,280.6 471.5,280.0 472.0,278.4 472.5,279.5 473.0,279.5 473.5,279.6 474.0,280.5 474.5,279.4 475.0,279.9 475.5,281.1 476.0,281.5 476.5,281.1 477.0,280.4 477.5,280.8 478.0,280.9 478.5,279.8 479.0,280.0 479.5,279.8 480.0,279.4 480.5,279.9 481.0,279.3 481.5,279.4 482.0,279.2 482.5,280.1 483.0,269.3 483.5,243.2 484.0,215.2 484.5,194.3 485.0,196.2 485.5,195.5 486.0,197.1 486.5,198.4 487.0,200.2 487.5,200.6 488.0,201.9 488.5,200.5 489.0,199.2 489.5,195.7 490.0,192.2 490.5,190.1 491.0,189.9 491.5,191.5 492.0,212.3 492.5,239.7 493.0,266.1 493.5,276.4 494.0,275.5 494.5,276.3 495.0,275.2 495.5,272.9 496.0,272.3 496.5,270.0 497.0,269.9 497.5,271.1 498.0,274.3 498.5,278.6 499.0,280.6 499.5,281.5 500.0,281.6 500.5,276.3 501.0,250.0 501.5,221.6 502.0,195.8 502.5,194.7 503.0,196.6 503.5,196.5 504.0,197.0 504.5,199.1 505.0,200.5 505.5,201.5 506.0,201.1 506.5,199.1 507.0,196.8 507.5,193.5 508.0,191.1 508.5,189.4 509.0,190.4 509.5,211.3 510.0,237.1 510.5,265.4 511.0,276.5 511.5,277.0 512.0,275.2 512.5,275.7 513.0,273.4 513.5,271.3 514.0,269.7 514.5,270.6 515.0,271.6 515.5,274.0 516.0,277.8 516.5,281.4 517.0,281.5 517.5,281.7 518.0,280.1 518.5,278.9 519.0,278.9 519.5,278.3 520.0,277.8 520.5,278.2 521.0,279.1 521.5,280.6 522.0,280.9 522.5,280.6 523.0,280.2 523.5,280.4 524.0,280.1 524.5,279.8 525.0,279.2 525.5,278.6 526.0,278.5 526.5,279.9 527.0,257.9 527.5,231.2 528.0,203.0 528.5,195.7 529.0,195.5 529.5,196.6 530.0,197.6 530.5,198.6 531.0,199.6 531.5,202.3 532.0,201.9 532.5,200.8 533.0,196.7 533.5,193.2 534.0,191.5 534.5,189.8 535.0,189.9 535.5,191.3 536.0,192.8 536.5,192.9 537.0,194.0 537.5,193.6 538.0,193.0 538.5,191.6 539.0,191.8 539.5,191.5 540.0,191.7 540.5,191.1 541.0,192.2 541.5,192.1 542.0,193.2 542.5,192.3 543.0,193.5 543.5,193.5 544.0,190.0 544.5,217.2 545.0,244.4 545.5,271.6 546.0,276.0 546.5,276.9 547.0,275.4 547.5,274.3 548.0,272.5 548.5,271.1 549.0,270.7 549.5,269.5 550.0,271.5 550.5,275.6 551.0,278.2 551.5,280.5 552.0,282.1 552.5,281.5 553.0,266.8 553.5,239.9 554.0,211.8 554.5,195.7 555.0,195.9 555.5,195.3 556.0,196.0 556.5,198.0 557.0,199.8 557.5,201.0 558.0,201.4 558.5,200.8 559.0,197.6 559.5,194.9 560.0,192.3 560.5,189.5 561.0,190.4 561.5,191.5 562.0,191.8 562.5,193.9 563.0,194.7 563.5,193.7 564.0,193.1 564.5,193.0 565.0,191.7 565.5,190.9 566.0,191.7 566.5,191.7 567.0,191.4 567.5,191.8 568.0,192.4 568.5,192.8 569.0,193.8 569.5,193.3 570.0,193.2 570.5,209.0 571.0,236.2 571.5,262.1 572.0,276.9 572.5,277.1 573.0,276.7 573.5,274.9 574.0,273.6 574.5,272.2 575.0,270.3 575.5,270.1 576.0,270.6 576.5,274.1 577.0,277.7 577.5,279.8 578.0,281.4 578.5,282.4 579.0,275.9 579.5,249.0 580.0,221.3 580.5,195.5 581.0,196.0 581.5,196.6 582.0,195.5 582.5,197.7 583.0,198.9 583.5,201.2 584.0,201.5 584.5,201.6 585.0,199.9 585.5,196.1 586.0,192.2 586.5,190.4 587.0,190.0 587.5,191.5 588.0,191.6 588.5,192.8 589.0,194.1 589.5,193.3 590.0,193.6 590.5,193.4 591.0,191.9 591.5,190.9 592.0,190.9 592.5,191.2 593.0,191.0 593.5,191.4 594.0,191.9 594.5,192.5 595.0,192.9 595.5,192.6 596.0,192.2 596.5,195.9 597.0,223.8 597.5,251.4 598.0,277.2 598.5,276.7 599.0,276.3 599.5,275.3 600.0,274.8 600.5,272.7 601.0,271.2 601.5,270.3 602.0,270.5 602.5,272.5 603.0,275.7 603.5,279.0 604.0,281.6 604.5,281.7 605.0,281.3 605.5,262.7 606.0,236.1 606.5,209.7 607.0,194.7 607.5,195.8 608.0,196.0 608.5,196.4 609.0,199.0 609.5,199.7 610.0,201.9 610.5,201.4 611.0,200.0 611.5,198.4 612.0,194.3 612.5,190.7 613.0,189.8 613.5,190.2 614.0,191.6 614.5,191.8 615.0,193.0 615.5,194.7 616.0,194.2 616.5,192.6 617.0,192.1 617.5,191.3 618.0,191.4 618.5,191.2 619.0,191.9 619.5,192.3 620.0,192.3 620.5,193.1 621.0,193.3 621.5,193.4 622.0,192.8 622.5,192.9 623.0,205.6 623.5,233.1 624.0,259.0 624.5,277.5 625.0,275.6 625.5,276.4 626.0,275.6 626.5,274.0 627.0,272.9 627.5,270.8 628.0,269.9 628.5,271.5 629.0,274.4 629.5,277.4 630.0,280.1 630.5,281.8 631.0,281.7 631.5,281.2 632.0,279.4 632.5,278.4 633.0,278.1 633.5,278.0 634.0,278.5 634.5,280.0 635.0,280.9 635.5,280.9 636.0,280.9 636.5,280.2 637.0,280.0 637.5,279.3 638.0,279.5 638.5,279.2 639.0,278.4 639.5,279.8 640.0,279.2 640.5,280.4 641.0,280.8 641.5,281.3 642.0,280.3 642.5,280.7 643.0,281.4 643.5,279.9 644.0,279.9 644.5,280.6 645.0,280.4 645.5,280.9 646.0,280.6 646.5,280.1 647.0,280.7 647.5,279.9 648.0,279.8 648.5,280.1 649.0,279.6 649.5,279.6 650.0,280.0 650.5,279.6 651.0,280.6 651.5,280.2 652.0,279.9 652.5,279.3 653.0,279.7 653.5,279.8 654.0,280.1 654.5,280.2 655.0,280.7 655.5,280.8 656.0,280.1 656.5,280.1 657.0,280.4 657.5,281.0 658.0,273.0 658.5,246.2 659.0,219.4 659.5,194.5 660.0,195.2 660.5,196.7 661.0,196.9 661.5,197.7 662.0,198.8 662.5,201.7 663.0,202.2 663.5,201.9 664.0,199.7 664.5,196.2 665.0,192.2 665.5,189.7 666.0,189.8 666.5,190.9 667.0,210.7 667.5,237.4 668.0,264.5 668.5,277.1 669.0,276.4 669.5,275.7 670.0,276.0 670.5,273.8 671.0,271.1 671.5,270.3 672.0,270.5 672.5,271.2 673.0,274.8 673.5,277.1 674.0,280.4 674.5,282.5 675.0,281.8 675.5,280.9 676.0,279.0 676.5,278.4 677.0,278.1 677.5,277.9 678.0,279.1 678.5,279.8 679.0,281.3 679.5,281.1 680.0,280.8 680.5,280.1 681.0,279.7 681.5,280.1 682.0,278.7 682.5,278.4 683.0,278.5 683.5,279.3 684.0,280.1 684.5,264.8 685.0,237.9 685.5,209.5 686.0,194.3 686.5,196.1 687.0,195.7 687.5,197.0 688.0,197.9 688.5,199.4 689.0,201.0 689.5,201.4 690.0,201.4 690.5,198.0 691.0,194.2 691.5,191.4 692.0,189.9 692.5,189.6 693.0,191.9 693.5,192.5 694.0,194.2 694.5,193.9 695.0,194.0 695.5,192.8 696.0,191.7 696.5,192.3 697.0,191.7 697.5,190.7 698.0,191.9 698.5,192.2 699.0,191.9 699.5,192.8 700.0,193.7 700.5,193.0 701.0,193.5 701.5,192.1 702.0,204.0 702.5,231.7 703.0,258.1 703.5,276.6 704.0,277.0 704.5,276.0 705.0,275.9 705.5,273.6 706.0,271.7 706.5,270.5 707.0,269.5 707.5,271.7 708.0,273.4 708.5,277.2 709.0,279.6 709.5,282.0 710.0,281.6 710.5,280.8 711.0,255.2 711.5,228.1 712.0,202.0 712.5,195.0 713.0,195.4 713.5,195.6 714.0,196.7 714.5,198.3 715.0,199.7 715.5,202.0 716.0,201.6 716.5,199.4 717.0,197.2 717.5,192.8 718.0,190.5 718.5,190.5 719.0,190.0 719.5,200.8 720.0,228.6 720.5,255.7 721.0,276.4 721.5,276.3 722.0,276.4 722.5,275.4 723.0,275.0 723.5,272.0 724.0,271.6 724.5,270.0 725.0,270.3 725.5,273.2 726.0,276.1 726.5,280.2 727.0,281.4 727.5,282.5 728.0,281.2 728.5,259.0 729.0,231.6 729.5,205.0 730.0,194.7 730.5,196.4 731.0,195.4 731.5,196.9 732.0,198.6 732.5,199.9 733.0,202.1 733.5,201.7 734.0,200.5 734.5,197.3 735.0,193.5 735.5,190.9 736.0,189.3 736.5,189.9 737.0,192.0 737.5,192.4 738.0,193.9 738.5,193.4 739.0,193.8 739.5,192.8 740.0,192.2 740.5,191.2 741.0,190.3 741.5,190.8 742.0,190.9 742.5,191.2 743.0,192.7 743.5,192.4 744.0,192.8 744.5,193.6 745.0,193.2 745.5,193.0 746.0,210.2 746.5,236.2 747.0,263.6 747.5,276.1 748.0,276.6 748.5,276.3 749.0,275.0 749.5,273.5 750.0,272.2 750.5,270.8 751.0,269.6 751.5,272.0 752.0,274.1 752.5,278.0 753.0,280.2 753.5,281.4 754.0,282.3 754.5,281.1 755.0,279.8 755.5,277.7 756.0,277.3 756.5,277.7 757.0,278.4 757.5,279.4 758.0,280.3 758.5,280.2 759.0,280.7 759.5,280.9 760.0,279.7 760.5,280.3 761.0,279.4 761.5,279.4 762.0,278.6 762.5,279.1 763.0,279.8 763.5,279.7 764.0,279.5 764.5,281.1 765.0,281.2 765.5,280.5 766.0,280.0 766.5,281.3 767.0,280.8 767.5,279.8 768.0,280.0 768.5,279.6 769.0,280.6 769.5,279.5 770.0,280.6 770.5,280.2 771.0,279.1 771.5,280.1 772.0,280.7 772.5,254.1 773.0,227.1 773.5,199.0 774.0,194.6 774.5,196.6 775.0,196.0 775.5,197.9 776.0,199.2 776.5,201.0 777.0,202.3 777.5,202.0 778.0,199.7 778.5,195.8 779.0,193.5 779.5,190.6 780.0,190.0 780.5,191.3 781.0,202.5 781.5,230.7 782.0,256.7 782.5,277.3 783.0,276.9 783.5,275.6 784.0,275.6 784.5,274.8 785.0,272.5 785.5,270.8 786.0,269.6 786.5,270.2 787.0,273.3 787.5,276.8 788.0,279.6 788.5,281.6 789.0,281.2 789.5,281.3 790.0,280.1 790.5,278.3 791.0,277.6 791.5,278.2 792.0,278.6 792.5,280.2 793.0,280.0 793.5,280.5 794.0,281.6 794.5,280.2 795.0,280.5 795.5,279.6 796.0,279.9 796.5,279.2 797.0,279.4 797.5,278.6 798.0,279.7 798.5,272.4 799.0,245.0 799.5,218.3 800.0,195.5 800.5,194.9 801.0,195.6 801.5,196.2 802.0,197.2 802.5,198.8 803.0,200.7 803.5,201.5 804.0,201.6 804.5,198.7 805.0,194.8 805.5,192.0 806.0,190.2 806.5,189.9 807.0,190.4 807.5,191.4 808.0,192.4 808.5,194.7 809.0,194.3 809.5,192.7 810.0,193.0 810.5,192.6 811.0,191.3 811.5,190.4 812.0,191.2 812.5,191.5 813.0,191.6 813.5,192.6 814.0,192.1 814.5,193.7 815.0,193.1 815.5,192.8 816.0,197.2 816.5,224.0 817.0,250.5 817.5,276.6 818.0,276.0 818.5,275.3 819.0,276.2 819.5,275.0 820.0,272.4 820.5,270.6 821.0,270.3 821.5,271.1 822.0,273.5 822.5,275.6 823.0,279.9 823.5,282.1 824.0,282.3 824.5,280.9 825.0,263.0 825.5,236.8 826.0,208.8 826.5,194.9 827.0,195.8 827.5,195.8 828.0,197.2 828.5,197.8 829.0,199.3 829.5,201.6 830.0,202.2 830.5,201.2 831.0,198.1 831.5,195.0 832.0,192.1 832.5,190.0 833.0,190.3 833.5,190.7 834.0,192.1 834.5,193.6 835.0,193.3 835.5,194.1 836.0,192.6 836.5,192.3 837.0,192.3 837.5,190.4 838.0,190.3 838.5,191.2 839.0,191.2 839.5,192.6 840.0,191.9 840.5,193.5 841.0,193.5 841.5,193.3 842.0,192.4 842.5,204.9 843.0,232.7 843.5,259.6 844.0,276.8 844.5,276.1 845.0,275.9 845.5,275.7 846.0,274.5 846.5,272.8 847.0,270.1 847.5,269.7 848.0,271.0 848.5,273.9 849.0,277.0 849.5,279.8 850.0,281.3 850.5,281.5 851.0,281.9 851.5,255.6 852.0,228.3 852.5,201.0 853.0,196.0 853.5,196.6 854.0,196.3 854.5,197.6 855.0,198.1 855.5,200.8 856.0,201.9 856.5,201.5 857.0,200.0 857.5,197.4 858.0,193.3 858.5,191.0 859.0,189.7 859.5,190.3 860.0,201.5 860.5,227.3 861.0,254.8 861.5,277.3 862.0,276.4 862.5,275.4 863.0,275.8 863.5,274.0 864.0,272.6 864.5,270.7 865.0,270.1 865.5,270.9 866.0,273.2 866.5,276.1 867.0,279.3 867.5,282.4 868.0,281.9 868.5,280.4 869.0,260.8 869.5,232.7 870.0,205.2 870.5,195.2 871.0,195.3 871.5,196.0 872.0,197.0 872.5,198.0 873.0,200.3 873.5,201.0 874.0,202.0 874.5,200.5 875.0,196.7 875.5,193.8 876.0,190.5 876.5,189.9 877.0,191.0 877.5,191.5 878.0,192.9 878.5,194.0 879.0,193.4 879.5,194.5 880.0,193.4 880.5,191.6 881.0,192.0 881.5,190.9 882.0,190.5 882.5,192.1 883.0,191.9 883.5,192.7 884.0,192.1 884.5,193.4 885.0,192.3 885.5,192.3 886.0,192.2 886.5,205.5 887.0,233.7 887.5,260.2 888.0,276.6 888.5,276.7 889.0,275.9 889.5,276.0 890.0,274.1 890.5,272.7 891.0,270.7 891.5,270.7 892.0,271.8" fill="none" stroke="#b04288" stroke-width="1.8" stroke-opacity="0.08" stroke-linejoin="round"/><polyline points="237.0,279.5 237.5,280.8 238.0,280.4 238.5,279.4 239.0,280.7 239.5,279.4 240.0,279.8 240.5,280.8 241.0,280.5 241.5,280.4 242.0,279.9 242.5,279.5 243.0,280.2 243.5,279.4 244.0,279.5 244.5,279.8 245.0,279.3 245.5,279.8 246.0,280.5 246.5,280.3 247.0,280.0 247.5,280.2 248.0,279.9 248.5,279.4 249.0,280.2 249.5,279.8 250.0,280.4 250.5,280.7 251.0,279.9 251.5,280.1 252.0,280.4 252.5,279.9 253.0,279.6 253.5,280.4 254.0,280.4 254.5,253.1 255.0,225.8 255.5,198.8 256.0,195.6 256.5,196.1 257.0,196.1 257.5,197.0 258.0,199.2 258.5,200.0 259.0,201.7 259.5,202.2 260.0,200.0 260.5,196.6 261.0,192.7 261.5,190.5 262.0,190.0 262.5,190.8 263.0,191.6 263.5,193.2 264.0,194.5 264.5,193.5 265.0,193.8 265.5,193.3 266.0,191.8 266.5,191.3 267.0,191.8 267.5,190.4 268.0,191.5 268.5,191.4 269.0,192.9 269.5,193.5 270.0,193.0 270.5,192.3 271.0,192.8 271.5,192.4 272.0,192.3 272.5,191.6 273.0,191.5 273.5,191.7 274.0,191.3 274.5,191.1 275.0,192.1 275.5,191.0 276.0,191.9 276.5,191.5 277.0,192.2 277.5,191.3 278.0,192.8 278.5,191.9 279.0,191.5 279.5,191.8 280.0,192.0 280.5,191.4 281.0,192.1 281.5,192.0 282.0,192.5 282.5,191.9 283.0,191.7 283.5,191.7 284.0,192.5 284.5,192.7 285.0,192.1 285.5,191.5 286.0,192.4 286.5,191.7 287.0,191.4 287.5,191.3 288.0,192.3 288.5,192.3 289.0,192.0 289.5,212.8 290.0,240.1 290.5,266.8 291.0,277.6 291.5,276.0 292.0,276.2 292.5,275.6 293.0,274.0 293.5,271.7 294.0,270.0 294.5,270.2 295.0,271.1 295.5,275.3 296.0,277.9 296.5,281.5 297.0,281.6 297.5,281.4 298.0,280.2 298.5,279.2 299.0,277.9 299.5,277.2 300.0,278.6 300.5,278.6 301.0,279.4 301.5,280.2 302.0,280.9 302.5,280.8 303.0,280.9 303.5,280.4 304.0,279.5 304.5,279.9 305.0,279.6 305.5,278.3 306.0,279.8 306.5,280.2 307.0,262.9 307.5,234.7 308.0,208.6 308.5,195.3 309.0,194.9 309.5,195.2 310.0,197.5 310.5,198.6 311.0,199.7 311.5,200.9 312.0,201.4 312.5,200.1 313.0,198.1 313.5,194.0 314.0,190.8 314.5,190.7 315.0,190.8 315.5,190.8 316.0,193.1 316.5,193.7 317.0,194.4 317.5,194.0 318.0,193.8 318.5,192.8 319.0,192.1 319.5,190.6 320.0,191.4 320.5,191.4 321.0,192.1 321.5,192.2 322.0,193.3 322.5,193.1 323.0,192.6 323.5,192.4 324.0,191.9 324.5,206.3 325.0,232.8 325.5,260.6 326.0,276.4 326.5,276.4 327.0,276.0 327.5,275.4 328.0,274.5 328.5,271.3 329.0,271.2 329.5,269.9 330.0,271.3 330.5,274.2 331.0,277.9 331.5,280.2 332.0,281.8 332.5,282.5 333.0,280.1 333.5,255.6 334.0,228.4 334.5,200.2 335.0,195.4 335.5,196.1 336.0,196.8 336.5,196.8 337.0,199.6 337.5,200.5 338.0,201.7 338.5,202.5 339.0,199.2 339.5,197.1 340.0,193.6 340.5,190.5 341.0,190.6 341.5,190.3 342.0,199.7 342.5,227.0 343.0,254.6 343.5,276.5 344.0,276.4 344.5,275.9 345.0,275.7 345.5,274.8 346.0,272.2 346.5,271.4 347.0,269.9 347.5,270.7 348.0,272.8 348.5,276.6 349.0,280.5 349.5,282.0 350.0,282.3 350.5,280.8 351.0,261.6 351.5,234.4 352.0,207.6 352.5,195.3 353.0,196.2 353.5,195.3 354.0,197.1 354.5,199.0 355.0,200.2 355.5,200.8 356.0,201.7 356.5,199.7 357.0,197.1 357.5,194.8 358.0,191.5 358.5,190.3 359.0,190.8 359.5,193.9 360.0,220.6 360.5,247.8 361.0,275.0 361.5,277.0 362.0,276.3 362.5,276.1 363.0,274.2 363.5,273.2 364.0,271.2 364.5,270.6 365.0,269.7 365.5,272.0 366.0,275.0 366.5,279.5 367.0,282.1 367.5,282.2 368.0,281.1 368.5,268.9 369.0,241.7 369.5,214.1 370.0,194.7 370.5,195.2 371.0,195.9 371.5,196.2 372.0,197.8 372.5,199.9 373.0,202.0 373.5,201.3 374.0,201.2 374.5,197.6 375.0,194.4 375.5,192.4 376.0,190.2 376.5,190.9 377.0,191.0 377.5,191.5 378.0,193.1 378.5,194.1 379.0,194.6 379.5,194.1 380.0,192.5 380.5,191.6 381.0,190.5 381.5,191.2 382.0,190.8 382.5,191.1 383.0,191.4 383.5,191.8 384.0,193.2 384.5,192.4 385.0,193.6 385.5,191.9 386.0,197.7 386.5,223.7 387.0,250.7 387.5,277.3 388.0,276.2 388.5,276.4 389.0,275.2 389.5,273.7 390.0,273.2 390.5,271.4 391.0,270.6 391.5,270.9 392.0,272.2 392.5,276.4 393.0,279.8 393.5,281.6 394.0,282.6 394.5,280.8 395.0,265.3 395.5,237.8 396.0,209.4 396.5,194.3 397.0,195.9 397.5,196.5 398.0,196.0 398.5,197.9 399.0,200.3 399.5,200.9 400.0,202.6 400.5,200.7 401.0,197.2 401.5,194.3 402.0,191.6 402.5,189.9 403.0,190.6 403.5,190.0 404.0,218.2 404.5,244.7 405.0,272.3 405.5,276.9 406.0,276.0 406.5,275.7 407.0,275.3 407.5,273.9 408.0,271.9 408.5,270.3 409.0,269.9 409.5,271.5 410.0,276.1 410.5,279.1 411.0,281.8 411.5,281.7 412.0,281.6 412.5,271.9 413.0,244.5 413.5,216.9 414.0,194.7 414.5,195.4 415.0,196.6 415.5,196.2 416.0,198.1 416.5,199.7 417.0,201.8 417.5,202.5 418.0,200.9 418.5,197.9 419.0,194.9 419.5,192.0 420.0,190.3 420.5,190.7 421.0,191.6 421.5,210.5 422.0,238.9 422.5,266.1 423.0,277.4 423.5,276.4 424.0,275.6 424.5,275.7 425.0,274.1 425.5,272.1 426.0,271.1 426.5,269.8 427.0,270.9 427.5,274.6 428.0,278.5 428.5,280.3 429.0,282.4 429.5,282.3 430.0,280.2 430.5,279.6 431.0,278.7 431.5,277.9 432.0,277.8 432.5,278.5 433.0,280.1 433.5,281.0 434.0,280.9 434.5,280.3 435.0,281.1 435.5,280.6 436.0,279.3 436.5,279.4 437.0,279.7 437.5,279.7 438.0,279.3 438.5,279.5 439.0,267.5 439.5,239.6 440.0,212.5 440.5,194.5 441.0,195.9 441.5,195.8 442.0,196.7 442.5,197.9 443.0,199.8 443.5,200.7 444.0,201.3 444.5,201.8 445.0,198.0 445.5,194.2 446.0,192.0 446.5,190.5 447.0,189.7 447.5,191.3 448.0,192.0 448.5,193.4 449.0,193.2 449.5,193.1 450.0,194.1 450.5,193.1 451.0,191.7 451.5,191.2 452.0,190.6 452.5,191.7 453.0,191.6 453.5,192.9 454.0,193.1 454.5,193.4 455.0,193.7 455.5,192.4 456.0,191.8 456.5,197.7 457.0,224.8 457.5,251.9 458.0,276.3 458.5,276.7 459.0,276.6 459.5,275.6 460.0,275.1 460.5,273.3 461.0,270.3 461.5,270.2 462.0,270.4 462.5,272.4 463.0,277.1 463.5,279.2 464.0,281.8 464.5,282.1 465.0,281.9 465.5,280.3 466.0,278.7 466.5,278.0 467.0,277.5 467.5,279.3 468.0,280.1 468.5,279.7 469.0,280.0 469.5,280.6 470.0,280.6 470.5,281.1 471.0,280.6 471.5,280.0 472.0,278.4 472.5,279.5 473.0,279.5 473.5,279.6 474.0,280.5 474.5,279.4 475.0,279.9 475.5,281.1 476.0,281.5 476.5,281.1 477.0,280.4 477.5,280.8 478.0,280.9 478.5,279.8 479.0,280.0 479.5,279.8 480.0,279.4 480.5,279.9 481.0,279.3 481.5,279.4 482.0,279.2 482.5,280.1 483.0,269.3 483.5,243.2 484.0,215.2 484.5,194.3 485.0,196.2 485.5,195.5 486.0,197.1 486.5,198.4 487.0,200.2 487.5,200.6 488.0,201.9 488.5,200.5 489.0,199.2 489.5,195.7 490.0,192.2 490.5,190.1 491.0,189.9 491.5,191.5 492.0,212.3 492.5,239.7 493.0,266.1 493.5,276.4 494.0,275.5 494.5,276.3 495.0,275.2 495.5,272.9 496.0,272.3 496.5,270.0 497.0,269.9 497.5,271.1 498.0,274.3 498.5,278.6 499.0,280.6 499.5,281.5 500.0,281.6 500.5,276.3 501.0,250.0 501.5,221.6 502.0,195.8 502.5,194.7 503.0,196.6 503.5,196.5 504.0,197.0 504.5,199.1 505.0,200.5 505.5,201.5 506.0,201.1 506.5,199.1 507.0,196.8 507.5,193.5 508.0,191.1 508.5,189.4 509.0,190.4 509.5,211.3 510.0,237.1 510.5,265.4 511.0,276.5 511.5,277.0 512.0,275.2 512.5,275.7 513.0,273.4 513.5,271.3 514.0,269.7 514.5,270.6 515.0,271.6 515.5,274.0 516.0,277.8 516.5,281.4 517.0,281.5 517.5,281.7 518.0,280.1 518.5,278.9 519.0,278.9 519.5,278.3 520.0,277.8 520.5,278.2 521.0,279.1 521.5,280.6 522.0,280.9 522.5,280.6 523.0,280.2 523.5,280.4 524.0,280.1 524.5,279.8 525.0,279.2 525.5,278.6 526.0,278.5 526.5,279.9 527.0,257.9 527.5,231.2 528.0,203.0 528.5,195.7 529.0,195.5 529.5,196.6 530.0,197.6 530.5,198.6 531.0,199.6 531.5,202.3 532.0,201.9 532.5,200.8 533.0,196.7 533.5,193.2 534.0,191.5 534.5,189.8 535.0,189.9 535.5,191.3 536.0,192.8 536.5,192.9 537.0,194.0 537.5,193.6 538.0,193.0 538.5,191.6 539.0,191.8 539.5,191.5 540.0,191.7 540.5,191.1 541.0,192.2 541.5,192.1 542.0,193.2 542.5,192.3 543.0,193.5 543.5,193.5 544.0,190.0 544.5,217.2 545.0,244.4 545.5,271.6 546.0,276.0 546.5,276.9 547.0,275.4 547.5,274.3 548.0,272.5 548.5,271.1 549.0,270.7 549.5,269.5 550.0,271.5 550.5,275.6 551.0,278.2 551.5,280.5 552.0,282.1 552.5,281.5 553.0,266.8 553.5,239.9 554.0,211.8 554.5,195.7 555.0,195.9 555.5,195.3 556.0,196.0 556.5,198.0 557.0,199.8 557.5,201.0 558.0,201.4 558.5,200.8 559.0,197.6 559.5,194.9 560.0,192.3 560.5,189.5 561.0,190.4 561.5,191.5 562.0,191.8 562.5,193.9 563.0,194.7 563.5,193.7 564.0,193.1 564.5,193.0 565.0,191.7 565.5,190.9 566.0,191.7 566.5,191.7 567.0,191.4 567.5,191.8 568.0,192.4 568.5,192.8 569.0,193.8 569.5,193.3 570.0,193.2 570.5,209.0 571.0,236.2 571.5,262.1 572.0,276.9 572.5,277.1 573.0,276.7 573.5,274.9 574.0,273.6 574.5,272.2 575.0,270.3 575.5,270.1 576.0,270.6 576.5,274.1 577.0,277.7 577.5,279.8 578.0,281.4 578.5,282.4 579.0,275.9 579.5,249.0 580.0,221.3 580.5,195.5 581.0,196.0 581.5,196.6 582.0,195.5 582.5,197.7 583.0,198.9 583.5,201.2 584.0,201.5 584.5,201.6 585.0,199.9 585.5,196.1 586.0,192.2 586.5,190.4 587.0,190.0 587.5,191.5 588.0,191.6 588.5,192.8 589.0,194.1 589.5,193.3 590.0,193.6 590.5,193.4 591.0,191.9 591.5,190.9 592.0,190.9 592.5,191.2 593.0,191.0 593.5,191.4 594.0,191.9 594.5,192.5 595.0,192.9 595.5,192.6 596.0,192.2 596.5,195.9 597.0,223.8 597.5,251.4 598.0,277.2 598.5,276.7 599.0,276.3 599.5,275.3 600.0,274.8 600.5,272.7 601.0,271.2 601.5,270.3 602.0,270.5 602.5,272.5 603.0,275.7 603.5,279.0 604.0,281.6 604.5,281.7 605.0,281.3 605.5,262.7 606.0,236.1 606.5,209.7 607.0,194.7 607.5,195.8 608.0,196.0 608.5,196.4 609.0,199.0 609.5,199.7 610.0,201.9 610.5,201.4 611.0,200.0 611.5,198.4 612.0,194.3 612.5,190.7 613.0,189.8 613.5,190.2 614.0,191.6 614.5,191.8 615.0,193.0 615.5,194.7 616.0,194.2 616.5,192.6 617.0,192.1 617.5,191.3 618.0,191.4 618.5,191.2 619.0,191.9 619.5,192.3 620.0,192.3 620.5,193.1 621.0,193.3 621.5,193.4 622.0,192.8 622.5,192.9 623.0,205.6 623.5,233.1 624.0,259.0 624.5,277.5 625.0,275.6 625.5,276.4 626.0,275.6 626.5,274.0 627.0,272.9 627.5,270.8 628.0,269.9 628.5,271.5 629.0,274.4 629.5,277.4 630.0,280.1 630.5,281.8 631.0,281.7 631.5,281.2 632.0,279.4 632.5,278.4 633.0,278.1 633.5,278.0 634.0,278.5 634.5,280.0 635.0,280.9 635.5,280.9 636.0,280.9 636.5,280.2 637.0,280.0 637.5,279.3 638.0,279.5 638.5,279.2 639.0,278.4 639.5,279.8 640.0,279.2 640.5,280.4 641.0,280.8 641.5,281.3 642.0,280.3 642.5,280.7 643.0,281.4 643.5,279.9 644.0,279.9 644.5,280.6 645.0,280.4 645.5,280.9 646.0,280.6 646.5,280.1 647.0,280.7 647.5,279.9 648.0,279.8 648.5,280.1 649.0,279.6 649.5,279.6 650.0,280.0 650.5,279.6 651.0,280.6 651.5,280.2 652.0,279.9 652.5,279.3 653.0,279.7 653.5,279.8 654.0,280.1 654.5,280.2 655.0,280.7 655.5,280.8 656.0,280.1 656.5,280.1 657.0,280.4 657.5,281.0 658.0,273.0 658.5,246.2 659.0,219.4 659.5,194.5 660.0,195.2 660.5,196.7 661.0,196.9 661.5,197.7 662.0,198.8 662.5,201.7 663.0,202.2 663.5,201.9 664.0,199.7 664.5,196.2 665.0,192.2 665.5,189.7 666.0,189.8 666.5,190.9 667.0,210.7 667.5,237.4 668.0,264.5 668.5,277.1 669.0,276.4 669.5,275.7 670.0,276.0 670.5,273.8 671.0,271.1 671.5,270.3 672.0,270.5 672.5,271.2 673.0,274.8 673.5,277.1 674.0,280.4 674.5,282.5 675.0,281.8 675.5,280.9 676.0,279.0 676.5,278.4 677.0,278.1 677.5,277.9 678.0,279.1 678.5,279.8 679.0,281.3 679.5,281.1 680.0,280.8 680.5,280.1 681.0,279.7 681.5,280.1 682.0,278.7 682.5,278.4 683.0,278.5 683.5,279.3 684.0,280.1 684.5,264.8 685.0,237.9 685.5,209.5 686.0,194.3 686.5,196.1 687.0,195.7 687.5,197.0 688.0,197.9 688.5,199.4 689.0,201.0 689.5,201.4 690.0,201.4 690.5,198.0 691.0,194.2 691.5,191.4 692.0,189.9 692.5,189.6 693.0,191.9 693.5,192.5 694.0,194.2 694.5,193.9 695.0,194.0 695.5,192.8 696.0,191.7 696.5,192.3 697.0,191.7 697.5,190.7 698.0,191.9 698.5,192.2 699.0,191.9 699.5,192.8 700.0,193.7 700.5,193.0 701.0,193.5 701.5,192.1 702.0,204.0 702.5,231.7 703.0,258.1 703.5,276.6 704.0,277.0 704.5,276.0 705.0,275.9 705.5,273.6 706.0,271.7 706.5,270.5 707.0,269.5 707.5,271.7 708.0,273.4 708.5,277.2 709.0,279.6 709.5,282.0 710.0,281.6 710.5,280.8 711.0,255.2 711.5,228.1 712.0,202.0 712.5,195.0 713.0,195.4 713.5,195.6 714.0,196.7 714.5,198.3 715.0,199.7 715.5,202.0 716.0,201.6 716.5,199.4 717.0,197.2 717.5,192.8 718.0,190.5 718.5,190.5 719.0,190.0 719.5,200.8 720.0,228.6 720.5,255.7 721.0,276.4 721.5,276.3 722.0,276.4 722.5,275.4 723.0,275.0 723.5,272.0 724.0,271.6 724.5,270.0 725.0,270.3 725.5,273.2 726.0,276.1 726.5,280.2 727.0,281.4 727.5,282.5 728.0,281.2 728.5,259.0 729.0,231.6 729.5,205.0 730.0,194.7 730.5,196.4 731.0,195.4 731.5,196.9 732.0,198.6 732.5,199.9 733.0,202.1 733.5,201.7 734.0,200.5 734.5,197.3 735.0,193.5 735.5,190.9 736.0,189.3 736.5,189.9 737.0,192.0 737.5,192.4 738.0,193.9 738.5,193.4 739.0,193.8 739.5,192.8 740.0,192.2 740.5,191.2 741.0,190.3 741.5,190.8 742.0,190.9 742.5,191.2 743.0,192.7 743.5,192.4 744.0,192.8 744.5,193.6 745.0,193.2 745.5,193.0 746.0,210.2 746.5,236.2 747.0,263.6 747.5,276.1 748.0,276.6 748.5,276.3 749.0,275.0 749.5,273.5 750.0,272.2 750.5,270.8 751.0,269.6 751.5,272.0 752.0,274.1 752.5,278.0 753.0,280.2 753.5,281.4 754.0,282.3 754.5,281.1 755.0,279.8 755.5,277.7 756.0,277.3 756.5,277.7 757.0,278.4 757.5,279.4 758.0,280.3 758.5,280.2 759.0,280.7 759.5,280.9 760.0,279.7 760.5,280.3 761.0,279.4 761.5,279.4 762.0,278.6 762.5,279.1 763.0,279.8 763.5,279.7 764.0,279.5 764.5,281.1 765.0,281.2 765.5,280.5 766.0,280.0 766.5,281.3 767.0,280.8 767.5,279.8 768.0,280.0 768.5,279.6 769.0,280.6 769.5,279.5 770.0,280.6 770.5,280.2 771.0,279.1 771.5,280.1 772.0,280.7 772.5,254.1 773.0,227.1 773.5,199.0 774.0,194.6 774.5,196.6 775.0,196.0 775.5,197.9 776.0,199.2 776.5,201.0 777.0,202.3 777.5,202.0 778.0,199.7 778.5,195.8 779.0,193.5 779.5,190.6 780.0,190.0 780.5,191.3 781.0,202.5 781.5,230.7 782.0,256.7 782.5,277.3 783.0,276.9 783.5,275.6 784.0,275.6 784.5,274.8 785.0,272.5 785.5,270.8 786.0,269.6 786.5,270.2 787.0,273.3 787.5,276.8 788.0,279.6 788.5,281.6 789.0,281.2 789.5,281.3 790.0,280.1 790.5,278.3 791.0,277.6 791.5,278.2 792.0,278.6 792.5,280.2 793.0,280.0 793.5,280.5 794.0,281.6 794.5,280.2 795.0,280.5 795.5,279.6 796.0,279.9 796.5,279.2 797.0,279.4 797.5,278.6 798.0,279.7 798.5,272.4 799.0,245.0 799.5,218.3 800.0,195.5 800.5,194.9 801.0,195.6 801.5,196.2 802.0,197.2 802.5,198.8 803.0,200.7 803.5,201.5 804.0,201.6 804.5,198.7 805.0,194.8 805.5,192.0 806.0,190.2 806.5,189.9 807.0,190.4 807.5,191.4 808.0,192.4 808.5,194.7 809.0,194.3 809.5,192.7 810.0,193.0 810.5,192.6 811.0,191.3 811.5,190.4 812.0,191.2 812.5,191.5 813.0,191.6 813.5,192.6 814.0,192.1 814.5,193.7 815.0,193.1 815.5,192.8 816.0,197.2 816.5,224.0 817.0,250.5 817.5,276.6 818.0,276.0 818.5,275.3 819.0,276.2 819.5,275.0 820.0,272.4 820.5,270.6 821.0,270.3 821.5,271.1 822.0,273.5 822.5,275.6 823.0,279.9 823.5,282.1 824.0,282.3 824.5,280.9 825.0,263.0 825.5,236.8 826.0,208.8 826.5,194.9 827.0,195.8 827.5,195.8 828.0,197.2 828.5,197.8 829.0,199.3 829.5,201.6 830.0,202.2 830.5,201.2 831.0,198.1 831.5,195.0 832.0,192.1 832.5,190.0 833.0,190.3 833.5,190.7 834.0,192.1 834.5,193.6 835.0,193.3 835.5,194.1 836.0,192.6 836.5,192.3 837.0,192.3 837.5,190.4 838.0,190.3 838.5,191.2 839.0,191.2 839.5,192.6 840.0,191.9 840.5,193.5 841.0,193.5 841.5,193.3 842.0,192.4 842.5,204.9 843.0,232.7 843.5,259.6 844.0,276.8 844.5,276.1 845.0,275.9 845.5,275.7 846.0,274.5 846.5,272.8 847.0,270.1 847.5,269.7 848.0,271.0 848.5,273.9 849.0,277.0 849.5,279.8 850.0,281.3 850.5,281.5 851.0,281.9 851.5,255.6 852.0,228.3 852.5,201.0 853.0,196.0 853.5,196.6 854.0,196.3 854.5,197.6 855.0,198.1 855.5,200.8 856.0,201.9 856.5,201.5 857.0,200.0 857.5,197.4 858.0,193.3 858.5,191.0 859.0,189.7 859.5,190.3 860.0,201.5 860.5,227.3 861.0,254.8 861.5,277.3 862.0,276.4 862.5,275.4 863.0,275.8 863.5,274.0 864.0,272.6 864.5,270.7 865.0,270.1 865.5,270.9 866.0,273.2 866.5,276.1 867.0,279.3 867.5,282.4 868.0,281.9 868.5,280.4 869.0,260.8 869.5,232.7 870.0,205.2 870.5,195.2 871.0,195.3 871.5,196.0 872.0,197.0 872.5,198.0 873.0,200.3 873.5,201.0 874.0,202.0 874.5,200.5 875.0,196.7 875.5,193.8 876.0,190.5 876.5,189.9 877.0,191.0 877.5,191.5 878.0,192.9 878.5,194.0 879.0,193.4 879.5,194.5 880.0,193.4 880.5,191.6 881.0,192.0 881.5,190.9 882.0,190.5 882.5,192.1 883.0,191.9 883.5,192.7 884.0,192.1 884.5,193.4 885.0,192.3 885.5,192.3 886.0,192.2 886.5,205.5 887.0,233.7 887.5,260.2 888.0,276.6 888.5,276.7 889.0,275.9 889.5,276.0 890.0,274.1 890.5,272.7 891.0,270.7 891.5,270.7 892.0,271.8" fill="none" stroke="#b04288" stroke-width="0.85" stroke-linejoin="round"/></g>
<text x="276.1" y="78.2" class="bl">K28.3+</text>
<text x="363.4" y="78.2" class="bl">D21.5-</text>
<text x="450.8" y="78.2" class="bl">D24.2-</text>
<text x="538.6" y="78.2" class="bl">D24.2+</text>
<text x="625.8" y="78.2" class="bl">K28.3-</text>
<text x="713.1" y="78.2" class="bl">D21.5+</text>
<text x="800.5" y="78.2" class="bl">D24.2+</text>
<text x="870.5" y="78.2" class="bl">D24.2-</text>
<text x="276.4" y="196.0" class="bl">K28.3-</text>
<text x="364.1" y="196.0" class="bl">D10.5+</text>
<text x="451.8" y="196.0" class="bl">D25.4+</text>
<text x="539.5" y="196.0" class="bl">D25.4-</text>
<text x="627.3" y="196.0" class="bl">D13.4+</text>
<text x="715.1" y="196.0" class="bl">D22.3-</text>
<text x="802.6" y="196.0" class="bl">D18.6-</text>
<text x="871.5" y="196.0" class="bl">D02.6-</text>
<text x="408" y="70.3" class="pl">WTRM</text>
<text x="740" y="70.3" class="pl">WTRM</text>
<text x="408" y="188" class="pl">CONT</text>
<text x="230.6" y="114.0" class="z1">Z1</text><rect x="231.5" y="114.8" width="6" height="1.2" fill="#b8a830"/>
<rect x="231.6" y="228.2" width="5.6" height="5.2" fill="#5a1430"/><rect x="232" y="233.4" width="5.4" height="1.0" fill="#90406a"/>
<path d="M893.5 165.6 L898 163.6 L898 167.6 Z" fill="#d8c820"/>
<path d="M235.5 296.3 v3.6 M233.7 298.1 h3.6" stroke="#b04090" stroke-width="0.9"/>

<g fill="#f4f4f4">
<polygon points="795.0,52.8 800.0,47.2 808.1,47.2 803.7,52.9"/>
<polygon points="811.5,47.2 819.8,47.2 824.6,52.9 816.3,53.0"/>
<polygon points="803.7,53.6 809.2,49.2 809.2,56.8 803.5,61.3"/>
<polygon points="810.9,49.2 816.3,53.6 816.3,61.3 810.9,56.8"/>
</g>
<text x="827.8" y="53.2" class="lg1" textLength="34.3" lengthAdjust="spacingAndGlyphs">TELEDYNE</text>
<text x="864.6" y="53.2" class="lg2" textLength="24.2" lengthAdjust="spacingAndGlyphs">LECROY</text>
<text x="828.2" y="59.6" class="lg3" textLength="57.5" lengthAdjust="spacingAndGlyphs">Everywhere<tspan class="lg4">you</tspan>look</text>

</svg>
<div class="tbl" id="tsmall" style="position:absolute;left:0.2px;top:261.8px;">
<div class="frame" style="top:2px;height:84px"></div>
<div class="frame" style="top:88px;height:86px"></div>
<div class="vsep" style="left:55.5px;top:4px;height:82px"></div>
<div class="vsep" style="left:138.7px;top:4px;height:82px"></div>
<div class="vsep" style="left:450.8px;top:4px;height:82px"></div>
<div class="vsep" style="left:513.3px;top:4px;height:82px"></div>
<div class="vsep" style="left:585.8px;top:4px;height:82px"></div>
<div class="vsep" style="left:741.8px;top:4px;height:82px"></div>
<div class="vsep" style="left:55.5px;top:90px;height:83px"></div>
<div class="vsep" style="left:138.7px;top:90px;height:83px"></div>
<div class="vsep" style="left:450.8px;top:90px;height:83px"></div>
<div class="vsep" style="left:513.3px;top:90px;height:83px"></div>
<div class="vsep" style="left:585.8px;top:90px;height:83px"></div>
<div class="vsep" style="left:741.8px;top:90px;height:83px"></div>
<div class="hsep" style="top:53.0px"></div>
<div class="hsep" style="top:69.5px"></div>
<div class="hsep" style="top:123.0px"></div>
<div class="hsep" style="top:139.5px"></div>
<div class="hsep" style="top:156.0px"></div>
<div class="hcell" style="top:4px;background:#fbbe14"></div>
<div class="hcell" style="top:90.4px;background:#ea5f8c"></div>
<div class="hl" style="top:21px;background:#a9a83a"></div>
<div class="hl" style="top:156.8px;background:#b21f5d"></div>
<div class="t b dk" style="left:5.1px;top:4.2px;">8B10B</div>
<div class="t b" style="left:56.8px;top:4.2px;">Time(us)</div>
<div class="t b" style="left:140.3px;top:4.2px;">Data</div>
<div class="t b" style="left:452.0px;top:4.2px;">Length</div>
<div class="t b" style="left:514.8px;top:4.2px;">Primitive</div>
<div class="t b" style="left:587.7px;top:4.2px;">RD</div>
<div class="t b" style="left:743.8px;top:4.2px;">Data (Symbolic)</div>
<div class="t b dp" style="left:5.1px;top:90.5px;">8B10B</div>
<div class="t b" style="left:56.8px;top:90.5px;">Time(us)</div>
<div class="t b" style="left:140.3px;top:90.5px;">Data</div>
<div class="t b" style="left:452.0px;top:90.5px;">Length</div>
<div class="t b" style="left:514.8px;top:90.5px;">Primitive</div>
<div class="t b" style="left:587.7px;top:90.5px;">RD</div>
<div class="t b" style="left:743.8px;top:90.5px;">Data (Symbolic)</div>
<div class="t hy" style="left:4.6px;top:20.6px;">7</div>
<div class="t hy" style="left:56.8px;top:20.6px;">-33.92076</div>
<div class="t hy" style="left:140.3px;top:20.6px;">0x17c 0xb5 0x58 0x58</div>
<div class="t hy" style="left:452.0px;top:20.6px;">4</div>
<div class="t hy" style="left:514.8px;top:20.6px;">WTRM</div>
<div class="t hy" style="left:587.7px;top:20.6px;">1 -1 -1 1</div>
<div class="t hy" style="left:743.8px;top:20.6px;">K28.3+ D21.5- D24.2- D24.2+</div>
<div class="t " style="left:4.6px;top:36.8px;">8</div>
<div class="t " style="left:56.8px;top:36.8px;">-33.89408</div>
<div class="t " style="left:140.3px;top:36.8px;">0x17c 0xb5 0x58 0x58</div>
<div class="t " style="left:452.0px;top:36.8px;">4</div>
<div class="t " style="left:514.8px;top:36.8px;">WTRM</div>
<div class="t " style="left:587.7px;top:36.8px;">-1 1 1 -1</div>
<div class="t " style="left:743.8px;top:36.8px;">K28.3- D21.5+ D24.2+ D24.2-</div>
<div class="t " style="left:4.6px;top:53.4px;">9</div>
<div class="t " style="left:56.8px;top:53.4px;">-33.86738</div>
<div class="t " style="left:140.3px;top:53.4px;word-spacing:-0.3px;">0x17c 0xaa 0x99 0x99 0x8d 0x76 0xd2 0xc2 0x68 0xb3 0x…</div>
<div class="t " style="left:452.0px;top:53.4px;">100</div>
<div class="t " style="left:514.8px;top:53.4px;">CONT</div>
<div class="t " style="left:587.7px;top:53.4px;word-spacing:-0.15px;">1 -1 -1 1 -1 1 1 1 -1 1 1 1 1…</div>
<div class="t " style="left:743.8px;top:53.4px;word-spacing:-0.3px;">K28.3+ D10.5- D25.4- D25.4+ D13.4- D22.3+ D…</div>
<div class="t " style="left:4.6px;top:69.6px;">10</div>
<div class="t " style="left:56.8px;top:69.6px;">-33.19986</div>
<div class="t " style="left:140.3px;top:69.6px;">0x17c 0x95 0xb5 0xb5</div>
<div class="t " style="left:452.0px;top:69.6px;">4</div>
<div class="t " style="left:514.8px;top:69.6px;">SYNC</div>
<div class="t " style="left:587.7px;top:69.6px;">1 -1 1 1</div>
<div class="t " style="left:743.8px;top:69.6px;">K28.3+ D21.4- D21.5+ D21.5+</div>
<div class="t " style="left:4.6px;top:106.4px;">41</div>
<div class="t " style="left:56.8px;top:106.4px;"> 5.23948</div>
<div class="t " style="left:140.3px;top:106.4px;word-spacing:-0.3px;">0x17c 0xaa 0x99 0x99 0x8d 0x76 0xd2 0xc2 0x68 0xb3 0x…</div>
<div class="t " style="left:452.0px;top:106.4px;">1004</div>
<div class="t " style="left:514.8px;top:106.4px;">CONT</div>
<div class="t " style="left:587.7px;top:106.4px;word-spacing:-0.15px;">1 -1 -1 1 -1 1 1 1 -1 1 1 1 1…</div>
<div class="t " style="left:743.8px;top:106.4px;word-spacing:-0.3px;">K28.3+ D10.5- D25.4- D25.4+ D13.4- D22.3+ D…</div>
<div class="t " style="left:4.6px;top:122.7px;">42</div>
<div class="t " style="left:56.8px;top:122.7px;">12.04479</div>
<div class="t " style="left:140.3px;top:122.7px;">0x17c 0x95 0xb5 0xb5</div>
<div class="t " style="left:452.0px;top:122.7px;">4</div>
<div class="t " style="left:514.8px;top:122.7px;">SYNC</div>
<div class="t " style="left:587.7px;top:122.7px;">-1 1 -1 -1</div>
<div class="t " style="left:743.8px;top:122.7px;">K28.3- D21.4+ D21.5- D21.5-</div>
<div class="t " style="left:4.6px;top:139.4px;">43</div>
<div class="t " style="left:56.8px;top:139.4px;">12.07159</div>
<div class="t " style="left:140.3px;top:139.4px;">0x17c 0x95 0xb5 0xb5</div>
<div class="t " style="left:452.0px;top:139.4px;">4</div>
<div class="t " style="left:514.8px;top:139.4px;">SYNC</div>
<div class="t " style="left:587.7px;top:139.4px;">-1 1 -1 -1</div>
<div class="t " style="left:743.8px;top:139.4px;">K28.3- D21.4+ D21.5- D21.5-</div>
<div class="t hp" style="left:4.6px;top:156.3px;">44</div>
<div class="t hp" style="left:56.8px;top:156.3px;">12.09839</div>
<div class="t hp" style="left:140.3px;top:156.3px;word-spacing:-0.3px;">0x17c 0xaa 0x99 0x99 0x8d 0x76 0xd2 0xc2 0x68 0xb3 0x…</div>
<div class="t hp" style="left:452.0px;top:156.3px;">373</div>
<div class="t hp" style="left:514.8px;top:156.3px;">CONT</div>
<div class="t hp" style="left:587.7px;top:156.3px;">-1 1 1 -1 1 -1 -1 -1 1 -1 -1 -…</div>
<div class="t hp" style="left:743.8px;top:156.3px;word-spacing:-0.3px;">K28.3- D10.5+ D25.4+ D25.4- D13.4+ D22.3- D…</div>
<div class="sb" style="left:1001.5px;top:4.5px;height:84.5px"><div class="sbu"></div><div class="sbm"></div><div class="sbd"></div><div class="aru"></div><div class="ard"></div></div>
<div class="sb" style="left:1001.5px;top:90.5px;height:84.5px"><div class="sbu"></div><div class="sbm"></div><div class="sbd"></div><div class="aru"></div><div class="ard"></div></div>
</div>

<div class="zb" style="left:2.1px;top:351px;width:51px;height:22.3px;border:1px solid #7c9a7e;background:radial-gradient(ellipse 75% 55% at 30% 100%,rgba(214,224,40,1) 0%,rgba(200,210,45,0.85) 35%,rgba(160,170,60,0) 100%),linear-gradient(180deg,#848ca6 0%,#5e6580 20%,#4e5469 50%,#5a6258 80%,#6a7250 100%);">
 <div class="tag" style="background:#e2d21e;color:#4a4010">Z1</div>
 <div class="zt" style="top:1.0px;color:#2a2c3c">zoom(F1)</div>
 <div class="zt" style="top:8.2px;color:#e8e8ee">100 mV/div</div>
 <div class="zt" style="top:14.6px;color:#f0f0c8">6.0 ns/div</div>
</div>
<div class="zb" style="left:54.6px;top:351px;width:50.5px;height:22.3px;border:1px solid #606878;background:linear-gradient(180deg,#8a92aa 0%,#6a7286 30%,#525a6a 60%,#474e5e 100%);">
 <div class="tag" style="background:#e0208c;color:#f8c0e0">Z2</div>
 <div class="zt" style="top:1.0px;color:#2a2c3c">zoom(F2)</div>
 <div class="zt" style="top:8.2px;color:#e8e8ee">100 mV/div</div>
 <div class="zt" style="top:14.6px;color:#e8e8ee">5.0 ns/div</div>
</div>
<div class="zb" style="left:556.7px;top:351.2px;width:56.5px;height:21.6px;background:linear-gradient(180deg,#566074,#434a5c);border:0.5px solid #6a7080;">
 <div class="hd"><span style="left:1.2px">Timebase</span><span style="right:1.5px">0 ns</span></div>
 <div class="zt" style="top:8.0px;color:#dcdce4">50.0 ns/div</div>
 <div class="zt" style="top:14.5px;left:1.3px;right:auto;color:#dcdce4">40.0 kS</div>
 <div class="zt" style="top:14.5px;color:#dcdce4">80.0 GS/s</div>
</div>
<div class="zb" style="left:616.3px;top:351.2px;width:49.8px;height:21.6px;background:linear-gradient(180deg,#566074,#434a5c);border:0.5px solid #6a7080;">
 <div class="hd"><span style="left:1.2px">Trigger</span><b style="left:31.8px">C1</b><b style="left:40.7px">DC</b></div>
 <div class="zt" style="top:8.0px;left:1.3px;right:auto;color:#dcdce4">Stop</div>
 <div class="zt" style="top:8.0px;color:#dcdce4">0.0 mV</div>
 <div class="zt" style="top:14.5px;left:1.3px;right:auto;color:#dcdce4">Edge</div>
 <div class="zt" style="top:14.5px;color:#dcdce4">Positive</div>
</div>
</div>
<div class="tbl" id="tbig">
<div class="frame" style="top:2px;height:84px"></div>
<div class="frame" style="top:88px;height:86px"></div>
<div class="vsep" style="left:55.5px;top:4px;height:82px"></div>
<div class="vsep" style="left:138.7px;top:4px;height:82px"></div>
<div class="vsep" style="left:450.8px;top:4px;height:82px"></div>
<div class="vsep" style="left:513.3px;top:4px;height:82px"></div>
<div class="vsep" style="left:585.8px;top:4px;height:82px"></div>
<div class="vsep" style="left:741.8px;top:4px;height:82px"></div>
<div class="vsep" style="left:55.5px;top:90px;height:83px"></div>
<div class="vsep" style="left:138.7px;top:90px;height:83px"></div>
<div class="vsep" style="left:450.8px;top:90px;height:83px"></div>
<div class="vsep" style="left:513.3px;top:90px;height:83px"></div>
<div class="vsep" style="left:585.8px;top:90px;height:83px"></div>
<div class="vsep" style="left:741.8px;top:90px;height:83px"></div>
<div class="hsep" style="top:53.0px"></div>
<div class="hsep" style="top:69.5px"></div>
<div class="hsep" style="top:123.0px"></div>
<div class="hsep" style="top:139.5px"></div>
<div class="hsep" style="top:156.0px"></div>
<div class="hcell" style="top:4px;background:#fbbe14"></div>
<div class="hcell" style="top:90.4px;background:#ea5f8c"></div>
<div class="hl" style="top:21px;background:#a9a83a"></div>
<div class="hl" style="top:156.8px;background:#b21f5d"></div>
<div class="t b dk" style="left:5.1px;top:4.2px;">8B10B</div>
<div class="t b" style="left:56.8px;top:4.2px;">Time(us)</div>
<div class="t b" style="left:140.3px;top:4.2px;">Data</div>
<div class="t b" style="left:452.0px;top:4.2px;">Length</div>
<div class="t b" style="left:514.8px;top:4.2px;">Primitive</div>
<div class="t b" style="left:587.7px;top:4.2px;">RD</div>
<div class="t b" style="left:743.8px;top:4.2px;">Data (Symbolic)</div>
<div class="t b dp" style="left:5.1px;top:90.5px;">8B10B</div>
<div class="t b" style="left:56.8px;top:90.5px;">Time(us)</div>
<div class="t b" style="left:140.3px;top:90.5px;">Data</div>
<div class="t b" style="left:452.0px;top:90.5px;">Length</div>
<div class="t b" style="left:514.8px;top:90.5px;">Primitive</div>
<div class="t b" style="left:587.7px;top:90.5px;">RD</div>
<div class="t b" style="left:743.8px;top:90.5px;">Data (Symbolic)</div>
<div class="t hy" style="left:4.6px;top:20.6px;">7</div>
<div class="t hy" style="left:56.8px;top:20.6px;">-33.92076</div>
<div class="t hy" style="left:140.3px;top:20.6px;">0x17c 0xb5 0x58 0x58</div>
<div class="t hy" style="left:452.0px;top:20.6px;">4</div>
<div class="t hy" style="left:514.8px;top:20.6px;">WTRM</div>
<div class="t hy" style="left:587.7px;top:20.6px;">1 -1 -1 1</div>
<div class="t hy" style="left:743.8px;top:20.6px;">K28.3+ D21.5- D24.2- D24.2+</div>
<div class="t " style="left:4.6px;top:36.8px;">8</div>
<div class="t " style="left:56.8px;top:36.8px;">-33.89408</div>
<div class="t " style="left:140.3px;top:36.8px;">0x17c 0xb5 0x58 0x58</div>
<div class="t " style="left:452.0px;top:36.8px;">4</div>
<div class="t " style="left:514.8px;top:36.8px;">WTRM</div>
<div class="t " style="left:587.7px;top:36.8px;">-1 1 1 -1</div>
<div class="t " style="left:743.8px;top:36.8px;">K28.3- D21.5+ D24.2+ D24.2-</div>
<div class="t " style="left:4.6px;top:53.4px;">9</div>
<div class="t " style="left:56.8px;top:53.4px;">-33.86738</div>
<div class="t " style="left:140.3px;top:53.4px;word-spacing:-0.3px;">0x17c 0xaa 0x99 0x99 0x8d 0x76 0xd2 0xc2 0x68 0xb3 0x…</div>
<div class="t " style="left:452.0px;top:53.4px;">100</div>
<div class="t " style="left:514.8px;top:53.4px;">CONT</div>
<div class="t " style="left:587.7px;top:53.4px;word-spacing:-0.15px;">1 -1 -1 1 -1 1 1 1 -1 1 1 1 1…</div>
<div class="t " style="left:743.8px;top:53.4px;word-spacing:-0.3px;">K28.3+ D10.5- D25.4- D25.4+ D13.4- D22.3+ D…</div>
<div class="t " style="left:4.6px;top:69.6px;">10</div>
<div class="t " style="left:56.8px;top:69.6px;">-33.19986</div>
<div class="t " style="left:140.3px;top:69.6px;">0x17c 0x95 0xb5 0xb5</div>
<div class="t " style="left:452.0px;top:69.6px;">4</div>
<div class="t " style="left:514.8px;top:69.6px;">SYNC</div>
<div class="t " style="left:587.7px;top:69.6px;">1 -1 1 1</div>
<div class="t " style="left:743.8px;top:69.6px;">K28.3+ D21.4- D21.5+ D21.5+</div>
<div class="t " style="left:4.6px;top:106.4px;">41</div>
<div class="t " style="left:56.8px;top:106.4px;"> 5.23948</div>
<div class="t " style="left:140.3px;top:106.4px;word-spacing:-0.3px;">0x17c 0xaa 0x99 0x99 0x8d 0x76 0xd2 0xc2 0x68 0xb3 0x…</div>
<div class="t " style="left:452.0px;top:106.4px;">1004</div>
<div class="t " style="left:514.8px;top:106.4px;">CONT</div>
<div class="t " style="left:587.7px;top:106.4px;word-spacing:-0.15px;">1 -1 -1 1 -1 1 1 1 -1 1 1 1 1…</div>
<div class="t " style="left:743.8px;top:106.4px;word-spacing:-0.3px;">K28.3+ D10.5- D25.4- D25.4+ D13.4- D22.3+ D…</div>
<div class="t " style="left:4.6px;top:122.7px;">42</div>
<div class="t " style="left:56.8px;top:122.7px;">12.04479</div>
<div class="t " style="left:140.3px;top:122.7px;">0x17c 0x95 0xb5 0xb5</div>
<div class="t " style="left:452.0px;top:122.7px;">4</div>
<div class="t " style="left:514.8px;top:122.7px;">SYNC</div>
<div class="t " style="left:587.7px;top:122.7px;">-1 1 -1 -1</div>
<div class="t " style="left:743.8px;top:122.7px;">K28.3- D21.4+ D21.5- D21.5-</div>
<div class="t " style="left:4.6px;top:139.4px;">43</div>
<div class="t " style="left:56.8px;top:139.4px;">12.07159</div>
<div class="t " style="left:140.3px;top:139.4px;">0x17c 0x95 0xb5 0xb5</div>
<div class="t " style="left:452.0px;top:139.4px;">4</div>
<div class="t " style="left:514.8px;top:139.4px;">SYNC</div>
<div class="t " style="left:587.7px;top:139.4px;">-1 1 -1 -1</div>
<div class="t " style="left:743.8px;top:139.4px;">K28.3- D21.4+ D21.5- D21.5-</div>
<div class="t hp" style="left:4.6px;top:156.3px;">44</div>
<div class="t hp" style="left:56.8px;top:156.3px;">12.09839</div>
<div class="t hp" style="left:140.3px;top:156.3px;word-spacing:-0.3px;">0x17c 0xaa 0x99 0x99 0x8d 0x76 0xd2 0xc2 0x68 0xb3 0x…</div>
<div class="t hp" style="left:452.0px;top:156.3px;">373</div>
<div class="t hp" style="left:514.8px;top:156.3px;">CONT</div>
<div class="t hp" style="left:587.7px;top:156.3px;">-1 1 1 -1 1 -1 -1 -1 1 -1 -1 -…</div>
<div class="t hp" style="left:743.8px;top:156.3px;word-spacing:-0.3px;">K28.3- D10.5+ D25.4+ D25.4- D13.4+ D22.3- D…</div>
<div class="sb" style="left:1001.5px;top:4.5px;height:84.5px"><div class="sbu"></div><div class="sbm"></div><div class="sbd"></div><div class="aru"></div><div class="ard"></div></div>
<div class="sb" style="left:1001.5px;top:90.5px;height:84.5px"><div class="sbu"></div><div class="sbm"></div><div class="sbd"></div><div class="aru"></div><div class="ard"></div></div>
<div style="position:absolute;left:13.6px;top:0;width:1.6px;height:2.6px;background:#a03a80;"></div>
</div>
</body></html>
